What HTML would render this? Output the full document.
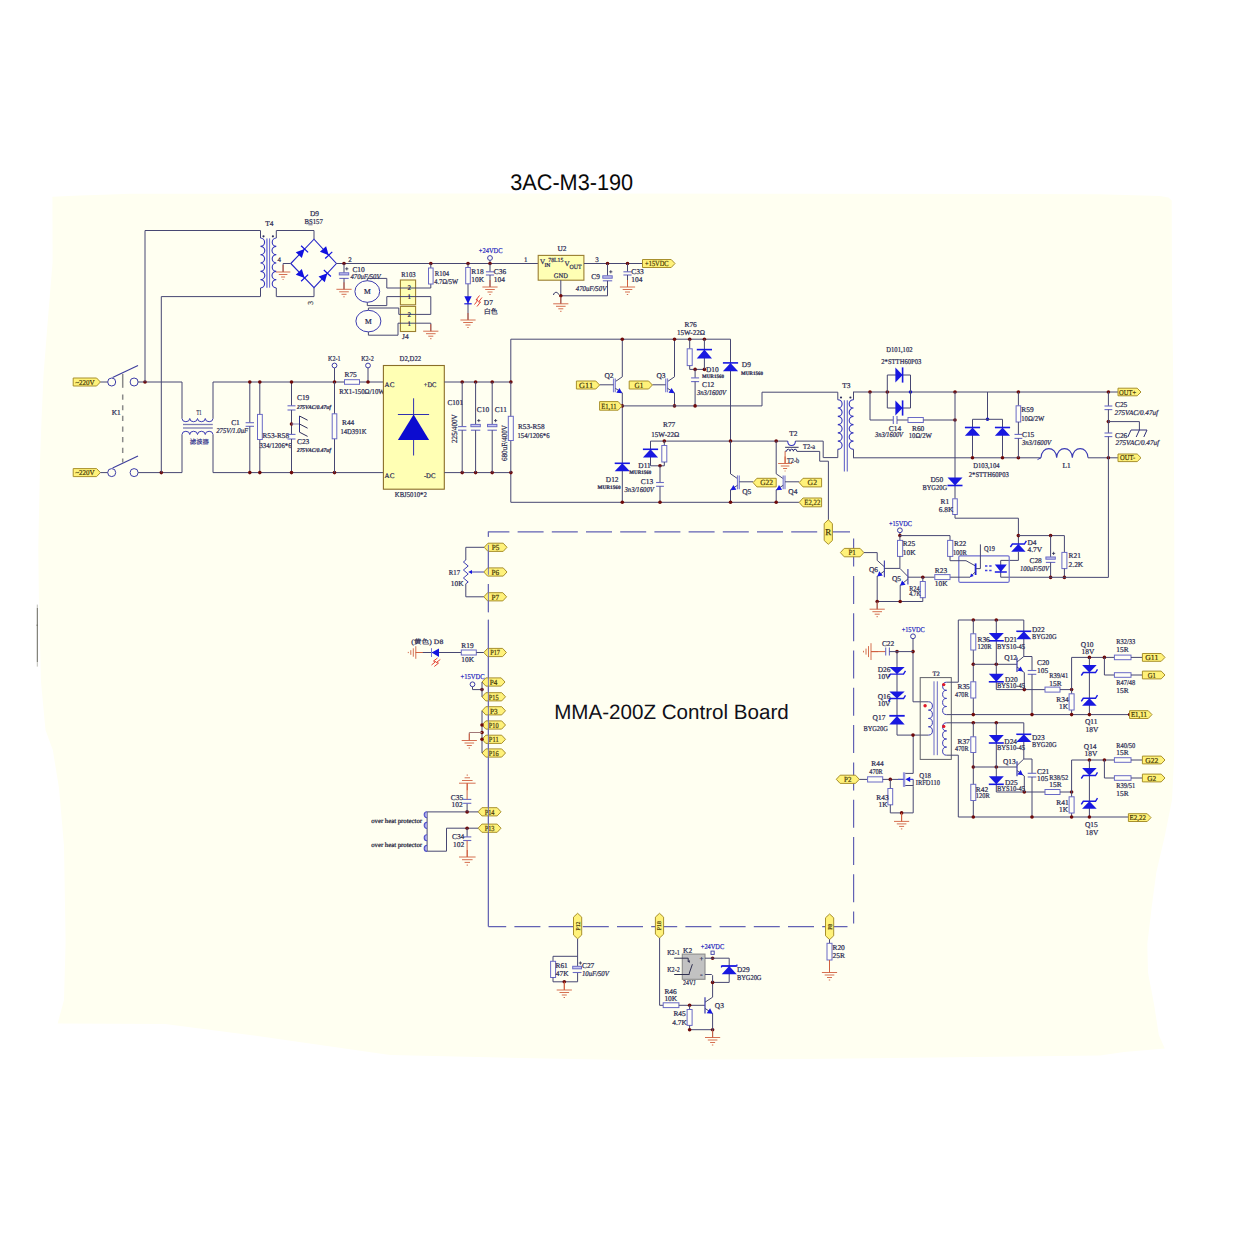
<!DOCTYPE html>
<html lang="en"><head><meta charset="utf-8"><title>3AC-M3-190 schematic</title>
<style>html,body{margin:0;padding:0;background:#fff;overflow:hidden}svg{display:block}</style></head>
<body><svg width="1250" height="1250" viewBox="0 0 1250 1250" shape-rendering="geometricPrecision" text-rendering="geometricPrecision" stroke-linecap="butt">
<rect width="1250" height="1250" fill="#ffffff"/>
<polygon points="52.4,196.8 80,195.6 110,194.5 130,193.8 300,193.6 600,193.6 1000,193.9 1100,194.2 1160,196 1168.5,197.4 1171.7,200.5 1172,300 1173,360 1174.2,500 1174.4,600 1174.2,756 1172,800 1164.8,836 1156.4,872 1151.6,908 1147.3,944 1148,972.8 1154,1004 1158.8,1035 1164.8,1048.4 1124,1052 1100,1055.6 808,1059 625,1060 500,1057.5 390,1055 250,1035 165,1024 57.6,1023.6 64,1000 65.6,942 64,846 59,788 52.8,750 45.5,730 41,682 38.9,600 38.3,548 40,462 41.5,420 43.5,375 48,318 52.6,262" fill="#fffff1" stroke="none" stroke-width="0"/>
<line x1="37.3" y1="604.6" x2="37.3" y2="608" stroke="#b8b8b0" stroke-width="0.9"/>
<line x1="37.3" y1="608" x2="37.3" y2="662" stroke="#66665c" stroke-width="1"/>
<line x1="37.3" y1="662" x2="37.3" y2="666.6" stroke="#b8b8b0" stroke-width="0.9"/>
<line x1="36.4" y1="625.2" x2="38" y2="625.2" stroke="#66665c" stroke-width="0.8"/>
<line x1="488.4" y1="531.8" x2="850" y2="531.8" stroke="#6262b4" stroke-width="1.2" stroke-dasharray="26 8.2" stroke-dashoffset="5"/>
<line x1="488.4" y1="926.6" x2="847.5" y2="926.6" stroke="#6262b4" stroke-width="1.2" stroke-dasharray="26 8.2" stroke-dashoffset="8.2"/>
<line x1="488.4" y1="531.6" x2="488.4" y2="536.8" stroke="#6262b4" stroke-width="1.2"/>
<line x1="488.4" y1="544.8" x2="488.4" y2="574.8" stroke="#6262b4" stroke-width="1.2"/>
<line x1="488.4" y1="584" x2="488.4" y2="612.2" stroke="#6262b4" stroke-width="1.2"/>
<line x1="488.4" y1="619.8" x2="488.4" y2="926.6" stroke="#6262b4" stroke-width="1.2"/>
<line x1="853.6" y1="538.6" x2="853.6" y2="923.5" stroke="#6262b4" stroke-width="1.2" stroke-dasharray="28 9.3"/>
<text x="510.2" y="190.2" font-size="22.5" fill="#0a0a0a" font-family='"Liberation Sans","Noto Sans CJK SC",sans-serif' textLength="123" lengthAdjust="spacingAndGlyphs">3AC-M3-190</text>
<text x="554.2" y="719.3" font-size="20.7" fill="#101018" font-family='"Liberation Sans","Noto Sans CJK SC",sans-serif' textLength="234.6" lengthAdjust="spacingAndGlyphs">MMA-200Z Control Board</text>
<polygon points="73.2,378 96.6,378 100.4,382 96.6,386 73.2,386" fill="#fff27a" stroke="#a8902c" stroke-width="1"/>
<text x="84.9" y="384.68" font-size="7.5" fill="#463808" font-family='"Liberation Serif","Noto Serif CJK SC",serif' text-anchor="middle" textLength="19.5" lengthAdjust="spacingAndGlyphs" stroke="#463808" stroke-width="0.2">~220V</text>
<line x1="100.4" y1="382" x2="107.7" y2="382" stroke="#474772" stroke-width="1"/>
<circle cx="111.7" cy="382" r="4" fill="none" stroke="#3c3ca8" stroke-width="1"/>
<circle cx="134.1" cy="382" r="4" fill="none" stroke="#3c3ca8" stroke-width="1"/>
<line x1="112.6" y1="377.4" x2="138" y2="365.4" stroke="#3c3c9c" stroke-width="1.1"/>
<polygon points="73.2,468.6 96.6,468.6 100.4,472.6 96.6,476.6 73.2,476.6" fill="#fff27a" stroke="#a8902c" stroke-width="1"/>
<text x="84.9" y="475.28" font-size="7.5" fill="#463808" font-family='"Liberation Serif","Noto Serif CJK SC",serif' text-anchor="middle" textLength="19.5" lengthAdjust="spacingAndGlyphs" stroke="#463808" stroke-width="0.2">~220V</text>
<line x1="100.4" y1="472.6" x2="107.7" y2="472.6" stroke="#474772" stroke-width="1"/>
<circle cx="111.7" cy="472.6" r="4" fill="none" stroke="#3c3ca8" stroke-width="1"/>
<circle cx="134.1" cy="472.6" r="4" fill="none" stroke="#3c3ca8" stroke-width="1"/>
<line x1="112.6" y1="468" x2="138" y2="456" stroke="#3c3c9c" stroke-width="1.1"/>
<line x1="122.7" y1="373.9" x2="122.7" y2="387.8" stroke="#8a8a8a" stroke-width="1.5"/>
<line x1="122.7" y1="394.5" x2="122.7" y2="462.4" stroke="#8a8a8a" stroke-width="1.5" stroke-dasharray="5.2 5.45"/>
<text x="111.7" y="415.24" font-size="7.4" fill="#2a2a52" font-family='"Liberation Serif","Noto Serif CJK SC",serif' stroke="#2a2a52" stroke-width="0.22">K1</text>
<polyline points="138.1 382 182 382 182 418.5" fill="none" stroke="#474772" stroke-width="1"/>
<circle cx="145" cy="382" r="1.8" fill="#6e0a0a"/>
<polyline points="145 382 145 230.5 260.4 230.5" fill="none" stroke="#474772" stroke-width="1"/>
<polyline points="138.1 472.6 182 472.6 182 434.5" fill="none" stroke="#474772" stroke-width="1"/>
<circle cx="161.3" cy="472.6" r="1.8" fill="#6e0a0a"/>
<polyline points="161.3 472.6 161.3 296.6 260.4 296.6" fill="none" stroke="#474772" stroke-width="1"/>
<path d="M182 418.5 A3.88 3.4 0 0 0 189.75 418.5 A3.88 3.4 0 0 0 197.5 418.5 A3.88 3.4 0 0 0 205.25 418.5 A3.88 3.4 0 0 0 213 418.5" fill="none" stroke="#3c3cb4" stroke-width="1"/>
<line x1="183" y1="424.5" x2="212.8" y2="424.5" stroke="#7c7cb4" stroke-width="1.3"/>
<line x1="183" y1="428" x2="212.8" y2="428" stroke="#7c7cb4" stroke-width="1.3"/>
<path d="M182 434.5 A3.88 3.4 0 0 1 189.75 434.5 A3.88 3.4 0 0 1 197.5 434.5 A3.88 3.4 0 0 1 205.25 434.5 A3.88 3.4 0 0 1 213 434.5" fill="none" stroke="#3c3cb4" stroke-width="1"/>
<text x="196.4" y="415.24" font-size="7.4" fill="#2a2a52" font-family='"Liberation Serif","Noto Serif CJK SC",serif' textLength="5" lengthAdjust="spacingAndGlyphs" stroke="#2a2a52" stroke-width="0.22">T1</text>
<text x="189.8" y="443.81" font-size="6.4" fill="#30308a" font-family='"Liberation Serif","Noto Serif CJK SC",serif' textLength="19" lengthAdjust="spacingAndGlyphs" stroke="#30308a" stroke-width="0.22">滤波器</text>
<polyline points="213 418.5 213 382 344.5 382" fill="none" stroke="#474772" stroke-width="1"/>
<polyline points="213 434.5 213 472.6 383.4 472.6" fill="none" stroke="#474772" stroke-width="1"/>
<line x1="249.8" y1="382" x2="249.8" y2="422.7" stroke="#474772" stroke-width="1"/>
<line x1="245.6" y1="422.7" x2="254" y2="422.7" stroke="#6a6ac6" stroke-width="1.1"/>
<line x1="245.6" y1="426.3" x2="254" y2="426.3" stroke="#6a6ac6" stroke-width="1.1"/>
<line x1="249.8" y1="426.3" x2="249.8" y2="472.6" stroke="#474772" stroke-width="1"/>
<circle cx="249.8" cy="382" r="1.8" fill="#6e0a0a"/>
<circle cx="249.8" cy="472.6" r="1.8" fill="#6e0a0a"/>
<text x="231.2" y="424.74" font-size="7.4" fill="#2a2a52" font-family='"Liberation Serif","Noto Serif CJK SC",serif' stroke="#2a2a52" stroke-width="0.22">C1</text>
<text x="216.2" y="433.14" font-size="7.4" fill="#2a2a52" font-family='"Liberation Serif","Noto Serif CJK SC",serif' textLength="32" lengthAdjust="spacingAndGlyphs" font-style="italic" stroke="#2a2a52" stroke-width="0.22">275V/1.0uF</text>
<line x1="259.8" y1="382" x2="259.8" y2="472.6" stroke="#474772" stroke-width="1"/>
<rect x="257.5" y="414.4" width="4.8" height="25.1" fill="#fffff6" stroke="#6a6ac6" stroke-width="1"/>
<circle cx="259.8" cy="382" r="1.8" fill="#6e0a0a"/>
<circle cx="259.8" cy="472.6" r="1.8" fill="#6e0a0a"/>
<text x="262.5" y="438.24" font-size="7.4" fill="#2a2a52" font-family='"Liberation Serif","Noto Serif CJK SC",serif' textLength="26.5" lengthAdjust="spacingAndGlyphs" stroke="#2a2a52" stroke-width="0.22">R53-R58</text>
<text x="259.5" y="448.44" font-size="7.4" fill="#2a2a52" font-family='"Liberation Serif","Noto Serif CJK SC",serif' textLength="32" lengthAdjust="spacingAndGlyphs" stroke="#2a2a52" stroke-width="0.22">334/1206*6</text>
<line x1="291.5" y1="382" x2="291.5" y2="405.8" stroke="#474772" stroke-width="1"/>
<line x1="287.5" y1="405.8" x2="295.5" y2="405.8" stroke="#6a6ac6" stroke-width="1.1"/>
<line x1="287.5" y1="410" x2="295.5" y2="410" stroke="#6a6ac6" stroke-width="1.1"/>
<line x1="291.5" y1="410" x2="291.5" y2="434.4" stroke="#474772" stroke-width="1"/>
<line x1="287.5" y1="434.4" x2="295.5" y2="434.4" stroke="#6a6ac6" stroke-width="1.1"/>
<line x1="287.5" y1="439" x2="295.5" y2="439" stroke="#6a6ac6" stroke-width="1.1"/>
<line x1="291.5" y1="439" x2="291.5" y2="472.6" stroke="#474772" stroke-width="1"/>
<circle cx="291.5" cy="382" r="1.8" fill="#6e0a0a"/>
<circle cx="291.5" cy="472.6" r="1.8" fill="#6e0a0a"/>
<circle cx="291.5" cy="424" r="1.8" fill="#6e0a0a"/>
<line x1="291.5" y1="424" x2="299.5" y2="424" stroke="#8a8ac0" stroke-width="1"/>
<line x1="299.5" y1="416" x2="299.5" y2="432.2" stroke="#30308c" stroke-width="1"/>
<line x1="299.5" y1="416" x2="307.6" y2="420.2" stroke="#30305a" stroke-width="1"/>
<line x1="299.5" y1="424" x2="307.6" y2="428.2" stroke="#30305a" stroke-width="1"/>
<line x1="299.5" y1="432.2" x2="307.6" y2="436.4" stroke="#30305a" stroke-width="1"/>
<text x="297" y="399.94" font-size="7.4" fill="#2a2a52" font-family='"Liberation Serif","Noto Serif CJK SC",serif' stroke="#2a2a52" stroke-width="0.22">C19</text>
<text x="297" y="409.21" font-size="5.8" fill="#2a2a52" font-family='"Liberation Serif","Noto Serif CJK SC",serif' textLength="34" lengthAdjust="spacingAndGlyphs" font-style="italic" font-weight="bold" stroke="#2a2a52" stroke-width="0.22">275VAC/0.47uf</text>
<text x="297" y="444.44" font-size="7.4" fill="#2a2a52" font-family='"Liberation Serif","Noto Serif CJK SC",serif' stroke="#2a2a52" stroke-width="0.22">C23</text>
<text x="297" y="451.61" font-size="5.8" fill="#2a2a52" font-family='"Liberation Serif","Noto Serif CJK SC",serif' textLength="34" lengthAdjust="spacingAndGlyphs" font-style="italic" font-weight="bold" stroke="#2a2a52" stroke-width="0.22">275VAC/0.47uf</text>
<circle cx="334.5" cy="365.5" r="2.4" fill="none" stroke="#3c3ca8" stroke-width="1"/>
<line x1="334.5" y1="368" x2="334.5" y2="382" stroke="#474772" stroke-width="1"/>
<circle cx="334.5" cy="382" r="1.8" fill="#6e0a0a"/>
<circle cx="334.5" cy="472.6" r="1.8" fill="#6e0a0a"/>
<line x1="334.5" y1="382" x2="334.5" y2="472.6" stroke="#474772" stroke-width="1"/>
<rect x="332.2" y="413.8" width="4.6" height="25" fill="#fffff6" stroke="#6a6ac6" stroke-width="1"/>
<text x="328" y="361.24" font-size="7.4" fill="#2a2a52" font-family='"Liberation Serif","Noto Serif CJK SC",serif' textLength="12.5" lengthAdjust="spacingAndGlyphs" stroke="#2a2a52" stroke-width="0.22">K2-1</text>
<text x="361.2" y="361.24" font-size="7.4" fill="#2a2a52" font-family='"Liberation Serif","Noto Serif CJK SC",serif' textLength="12.5" lengthAdjust="spacingAndGlyphs" stroke="#2a2a52" stroke-width="0.22">K2-2</text>
<text x="342" y="424.94" font-size="7.4" fill="#2a2a52" font-family='"Liberation Serif","Noto Serif CJK SC",serif' stroke="#2a2a52" stroke-width="0.22">R44</text>
<text x="340.5" y="434.44" font-size="7.4" fill="#2a2a52" font-family='"Liberation Serif","Noto Serif CJK SC",serif' textLength="26" lengthAdjust="spacingAndGlyphs" stroke="#2a2a52" stroke-width="0.22">14D391K</text>
<rect x="344.5" y="379.7" width="15" height="4.6" fill="#fffff6" stroke="#6a6ac6" stroke-width="1"/>
<line x1="359.5" y1="382" x2="383.4" y2="382" stroke="#474772" stroke-width="1"/>
<circle cx="368" cy="365.5" r="2.4" fill="none" stroke="#3c3ca8" stroke-width="1"/>
<line x1="368" y1="368" x2="368" y2="382" stroke="#474772" stroke-width="1"/>
<circle cx="368" cy="382" r="1.8" fill="#6e0a0a"/>
<text x="344.5" y="376.74" font-size="7.4" fill="#2a2a52" font-family='"Liberation Serif","Noto Serif CJK SC",serif' stroke="#2a2a52" stroke-width="0.22">R75</text>
<text x="339.3" y="394.44" font-size="7.4" fill="#2a2a52" font-family='"Liberation Serif","Noto Serif CJK SC",serif' textLength="45.5" lengthAdjust="spacingAndGlyphs" stroke="#2a2a52" stroke-width="0.22">RX1-150Ω/10W</text>
<rect x="383.4" y="365.5" width="60.9" height="123.7" fill="#ffffb4" stroke="#8a6e28" stroke-width="1.1"/>
<text x="399.5" y="361.24" font-size="7.4" fill="#2a2a52" font-family='"Liberation Serif","Noto Serif CJK SC",serif' textLength="21.7" lengthAdjust="spacingAndGlyphs" stroke="#2a2a52" stroke-width="0.22">D2,D22</text>
<text x="384.6" y="386.81" font-size="7" fill="#2a2a52" font-family='"Liberation Serif","Noto Serif CJK SC",serif' stroke="#2a2a52" stroke-width="0.22">AC</text>
<text x="423.8" y="386.81" font-size="7" fill="#2a2a52" font-family='"Liberation Serif","Noto Serif CJK SC",serif' textLength="12.5" lengthAdjust="spacingAndGlyphs" stroke="#2a2a52" stroke-width="0.22">+DC</text>
<text x="384.6" y="477.61" font-size="7" fill="#2a2a52" font-family='"Liberation Serif","Noto Serif CJK SC",serif' stroke="#2a2a52" stroke-width="0.22">AC</text>
<text x="423.9" y="477.61" font-size="7" fill="#2a2a52" font-family='"Liberation Serif","Noto Serif CJK SC",serif' textLength="11.5" lengthAdjust="spacingAndGlyphs" stroke="#2a2a52" stroke-width="0.22">-DC</text>
<text x="394.8" y="497.44" font-size="7.4" fill="#2a2a52" font-family='"Liberation Serif","Noto Serif CJK SC",serif' textLength="32" lengthAdjust="spacingAndGlyphs" stroke="#2a2a52" stroke-width="0.22">KBJ5010*2</text>
<line x1="413.6" y1="398.3" x2="413.6" y2="455.5" stroke="#3030b0" stroke-width="1"/>
<line x1="397.9" y1="414.5" x2="429.1" y2="414.5" stroke="#3030b0" stroke-width="1"/>
<polygon points="413.6,414.5 397.9,439.9 429.1,439.9" fill="#0c0cd0" stroke="none" stroke-width="0"/>
<polyline points="444.3 382 510.8 382 510.8 339.2 730.5 339.2" fill="none" stroke="#474772" stroke-width="1"/>
<polyline points="444.3 472.6 510.8 472.6 510.8 502.3 799.3 502.3" fill="none" stroke="#474772" stroke-width="1"/>
<circle cx="462.2" cy="382" r="1.8" fill="#6e0a0a"/>
<circle cx="462.2" cy="472.6" r="1.8" fill="#6e0a0a"/>
<circle cx="475.6" cy="382" r="1.8" fill="#6e0a0a"/>
<circle cx="475.6" cy="472.6" r="1.8" fill="#6e0a0a"/>
<circle cx="492.2" cy="382" r="1.8" fill="#6e0a0a"/>
<circle cx="492.2" cy="472.6" r="1.8" fill="#6e0a0a"/>
<circle cx="510.9" cy="382" r="1.8" fill="#6e0a0a"/>
<circle cx="510.9" cy="472.6" r="1.8" fill="#6e0a0a"/>
<line x1="462.2" y1="382" x2="462.2" y2="426.6" stroke="#474772" stroke-width="1"/>
<line x1="458" y1="426.6" x2="466.4" y2="426.6" stroke="#6a6ac6" stroke-width="1.1"/>
<line x1="458" y1="430.2" x2="466.4" y2="430.2" stroke="#6a6ac6" stroke-width="1.1"/>
<line x1="462.2" y1="430.2" x2="462.2" y2="472.6" stroke="#474772" stroke-width="1"/>
<text x="447.5" y="405.44" font-size="7.4" fill="#2a2a52" font-family='"Liberation Serif","Noto Serif CJK SC",serif' textLength="15.5" lengthAdjust="spacingAndGlyphs" stroke="#2a2a52" stroke-width="0.22">C101</text>
<text x="456.5" y="443" font-size="7.8" fill="#2a2a52" font-family='"Liberation Serif","Noto Serif CJK SC",serif' textLength="28.8" lengthAdjust="spacingAndGlyphs" transform="rotate(-90 456.5 443)" stroke="#2a2a52" stroke-width="0.22">225/400V</text>
<line x1="475.6" y1="382" x2="475.6" y2="424.4" stroke="#474772" stroke-width="1"/>
<rect x="470.9" y="424.4" width="9.4" height="2.3" fill="#c8c8ee" stroke="#6a6ac6" stroke-width="1"/>
<line x1="470.9" y1="430.2" x2="480.3" y2="430.2" stroke="#6a6ac6" stroke-width="1.1"/>
<line x1="477.2" y1="420.6" x2="480.4" y2="420.6" stroke="#2a2a52" stroke-width="0.8"/>
<line x1="478.8" y1="419" x2="478.8" y2="422.2" stroke="#2a2a52" stroke-width="0.8"/>
<line x1="475.6" y1="430.2" x2="475.6" y2="472.6" stroke="#474772" stroke-width="1"/>
<text x="476.8" y="412.44" font-size="7.4" fill="#2a2a52" font-family='"Liberation Serif","Noto Serif CJK SC",serif' stroke="#2a2a52" stroke-width="0.22">C10</text>
<line x1="492.2" y1="382" x2="492.2" y2="424.4" stroke="#474772" stroke-width="1"/>
<rect x="487.5" y="424.4" width="9.4" height="2.3" fill="#c8c8ee" stroke="#6a6ac6" stroke-width="1"/>
<line x1="487.5" y1="430.2" x2="496.9" y2="430.2" stroke="#6a6ac6" stroke-width="1.1"/>
<line x1="494" y1="420.6" x2="497.2" y2="420.6" stroke="#2a2a52" stroke-width="0.8"/>
<line x1="495.6" y1="419" x2="495.6" y2="422.2" stroke="#2a2a52" stroke-width="0.8"/>
<line x1="492.2" y1="430.2" x2="492.2" y2="472.6" stroke="#474772" stroke-width="1"/>
<text x="494.8" y="412.44" font-size="7.4" fill="#2a2a52" font-family='"Liberation Serif","Noto Serif CJK SC",serif' stroke="#2a2a52" stroke-width="0.22">C11</text>
<text x="506.7" y="461" font-size="7.8" fill="#2a2a52" font-family='"Liberation Serif","Noto Serif CJK SC",serif' textLength="36" lengthAdjust="spacingAndGlyphs" transform="rotate(-90 506.7 461)" stroke="#2a2a52" stroke-width="0.22">680uF/400V</text>
<line x1="510.8" y1="382" x2="510.8" y2="472.6" stroke="#474772" stroke-width="1"/>
<rect x="508.3" y="416.3" width="5" height="24.2" fill="#fffff6" stroke="#6a6ac6" stroke-width="1"/>
<text x="518" y="429.24" font-size="7.4" fill="#2a2a52" font-family='"Liberation Serif","Noto Serif CJK SC",serif' textLength="26.5" lengthAdjust="spacingAndGlyphs" stroke="#2a2a52" stroke-width="0.22">R53-R58</text>
<text x="517.5" y="438.24" font-size="7.4" fill="#2a2a52" font-family='"Liberation Serif","Noto Serif CJK SC",serif' textLength="32" lengthAdjust="spacingAndGlyphs" stroke="#2a2a52" stroke-width="0.22">154/1206*6</text>
<line x1="260.5" y1="230.5" x2="260.5" y2="238" stroke="#474772" stroke-width="1"/>
<path d="M260.5 238 A4.3 4.17 0 0 1 260.5 246.33 A4.3 4.17 0 0 1 260.5 254.67 A4.3 4.17 0 0 1 260.5 263 A4.3 4.17 0 0 1 260.5 271.33 A4.3 4.17 0 0 1 260.5 279.67 A4.3 4.17 0 0 1 260.5 288" fill="none" stroke="#3434bc" stroke-width="1.1"/>
<line x1="260.5" y1="288" x2="260.5" y2="296.6" stroke="#474772" stroke-width="1"/>
<line x1="266.9" y1="238.4" x2="266.9" y2="287.7" stroke="#8c8ce0" stroke-width="1.7"/>
<line x1="269.6" y1="238.4" x2="269.6" y2="287.7" stroke="#5a5ac8" stroke-width="0.9"/>
<line x1="276.3" y1="230.5" x2="276.3" y2="238" stroke="#474772" stroke-width="1"/>
<path d="M276.3 238 A4.3 4.17 0 0 0 276.3 246.33 A4.3 4.17 0 0 0 276.3 254.67 A4.3 4.17 0 0 0 276.3 263 A4.3 4.17 0 0 0 276.3 271.33 A4.3 4.17 0 0 0 276.3 279.67 A4.3 4.17 0 0 0 276.3 288" fill="none" stroke="#3434bc" stroke-width="1.1"/>
<line x1="276.3" y1="288" x2="276.3" y2="296.6" stroke="#474772" stroke-width="1"/>
<circle cx="263.5" cy="236.3" r="1.1" fill="#303060"/>
<circle cx="272.9" cy="236.3" r="1.1" fill="#303060"/>
<text x="265.2" y="226.44" font-size="7.4" fill="#2a2a52" font-family='"Liberation Serif","Noto Serif CJK SC",serif' stroke="#2a2a52" stroke-width="0.22">T4</text>
<text x="277.5" y="261.81" font-size="7" fill="#2a2a52" font-family='"Liberation Serif","Noto Serif CJK SC",serif' stroke="#2a2a52" stroke-width="0.22">4</text>
<polyline points="276.4 230.5 314 230.5 314 239.2" fill="none" stroke="#474772" stroke-width="1"/>
<polyline points="276.4 296.6 314 296.6 314 287.7" fill="none" stroke="#474772" stroke-width="1"/>
<polyline points="290.8 263.5 314 239.2 336.4 263.5 314 287.7 290.8 263.5" fill="none" stroke="#2828c8" stroke-width="1.1"/>
<polygon points="304.6,249.04 301.84,258.02 295.77,252.22" fill="#1010e0" stroke="none" stroke-width="0"/>
<line x1="308.1" y1="252.38" x2="301.11" y2="245.71" stroke="#1010e0" stroke-width="1.2"/>
<polygon points="328.72,255.17 319.94,251.84 326.11,246.14" fill="#1010e0" stroke="none" stroke-width="0"/>
<line x1="325.17" y1="258.44" x2="332.27" y2="251.89" stroke="#1010e0" stroke-width="1.2"/>
<polygon points="304.61,277.91 295.77,274.75 301.83,268.94" fill="#1010e0" stroke="none" stroke-width="0"/>
<line x1="301.12" y1="281.25" x2="308.1" y2="274.56" stroke="#1010e0" stroke-width="1.2"/>
<polygon points="327.38,273.24 324.76,282.26 318.59,276.56" fill="#1010e0" stroke="none" stroke-width="0"/>
<line x1="330.93" y1="276.52" x2="323.84" y2="269.96" stroke="#1010e0" stroke-width="1.2"/>
<text x="310" y="216.04" font-size="7.4" fill="#2a2a52" font-family='"Liberation Serif","Noto Serif CJK SC",serif' stroke="#2a2a52" stroke-width="0.22">D9</text>
<text x="304.4" y="223.74" font-size="7.4" fill="#2a2a52" font-family='"Liberation Serif","Noto Serif CJK SC",serif' textLength="18.4" lengthAdjust="spacingAndGlyphs" stroke="#2a2a52" stroke-width="0.22">BS157</text>
<line x1="308.4" y1="224.8" x2="312.6" y2="224.8" stroke="#50507a" stroke-width="0.8"/>
<text x="313" y="304.7" font-size="7.6" fill="#4a4a50" font-family='"Liberation Serif","Noto Serif CJK SC",serif' transform="rotate(-90 313 304.7)" stroke="#4a4a50" stroke-width="0.22">3</text>
<polyline points="290.8 263.5 283.1 263.5 283.1 272" fill="none" stroke="#474772" stroke-width="1"/>
<line x1="283.1" y1="265" x2="283.1" y2="272" stroke="#d06040" stroke-width="1"/>
<line x1="275.9" y1="272" x2="290.3" y2="272" stroke="#d06040" stroke-width="0.9"/>
<line x1="278.8" y1="274.5" x2="287.4" y2="274.5" stroke="#d06040" stroke-width="0.9"/>
<line x1="281.1" y1="277" x2="285.1" y2="277" stroke="#d06040" stroke-width="0.9"/>
<line x1="282.6" y1="279.5" x2="283.6" y2="279.5" stroke="#d06040" stroke-width="0.9"/>
<text x="348.2" y="261.81" font-size="7" fill="#2a2a52" font-family='"Liberation Serif","Noto Serif CJK SC",serif' stroke="#2a2a52" stroke-width="0.22">2</text>
<line x1="336.4" y1="263.5" x2="538" y2="263.5" stroke="#474772" stroke-width="1"/>
<circle cx="344" cy="263.5" r="1.8" fill="#6e0a0a"/>
<line x1="344" y1="263.5" x2="344" y2="272.8" stroke="#474772" stroke-width="1"/>
<rect x="339.3" y="272.8" width="9.4" height="2.1" fill="#c8c8ee" stroke="#6a6ac6" stroke-width="1"/>
<line x1="339.3" y1="278.4" x2="348.7" y2="278.4" stroke="#6a6ac6" stroke-width="1.1"/>
<line x1="345.2" y1="268.8" x2="348.4" y2="268.8" stroke="#2a2a52" stroke-width="0.8"/>
<line x1="346.8" y1="267.2" x2="346.8" y2="270.4" stroke="#2a2a52" stroke-width="0.8"/>
<line x1="344" y1="278.4" x2="344" y2="289.3" stroke="#474772" stroke-width="1"/>
<line x1="344" y1="282.3" x2="344" y2="289.3" stroke="#d06040" stroke-width="1"/>
<line x1="336.4" y1="289.3" x2="351.6" y2="289.3" stroke="#d06040" stroke-width="0.9"/>
<line x1="339.2" y1="291.8" x2="348.8" y2="291.8" stroke="#d06040" stroke-width="0.9"/>
<line x1="341.5" y1="294.3" x2="346.5" y2="294.3" stroke="#d06040" stroke-width="0.9"/>
<line x1="343.3" y1="296.8" x2="344.7" y2="296.8" stroke="#d06040" stroke-width="0.9"/>
<text x="352.4" y="272.04" font-size="7.4" fill="#2a2a52" font-family='"Liberation Serif","Noto Serif CJK SC",serif' stroke="#2a2a52" stroke-width="0.22">C10</text>
<text x="350.5" y="278.74" font-size="7.4" fill="#2a2a52" font-family='"Liberation Serif","Noto Serif CJK SC",serif' textLength="30" lengthAdjust="spacingAndGlyphs" font-style="italic" stroke="#2a2a52" stroke-width="0.22">470uF/50V</text>
<ellipse cx="367.3" cy="291.5" rx="12.4" ry="10.8" fill="#fffff6" stroke="#3c3cb0" stroke-width="1"/>
<text x="367.3" y="294.18" font-size="7.5" fill="#2a2a52" font-family='"Liberation Serif","Noto Serif CJK SC",serif' text-anchor="middle" stroke="#2a2a52" stroke-width="0.22">M</text>
<ellipse cx="368.4" cy="321.1" rx="12.5" ry="10.8" fill="#fffff6" stroke="#3c3cb0" stroke-width="1"/>
<text x="368.4" y="323.78" font-size="7.5" fill="#2a2a52" font-family='"Liberation Serif","Noto Serif CJK SC",serif' text-anchor="middle" stroke="#2a2a52" stroke-width="0.22">M</text>
<rect x="400.4" y="280" width="15.2" height="24.8" fill="#ffffb4" stroke="#9a7e30" stroke-width="1.1"/>
<rect x="400.4" y="306.4" width="15.2" height="25.1" fill="#ffffb4" stroke="#9a7e30" stroke-width="1.1"/>
<polyline points="367.3 280.7 367.3 278.4 386.8 278.4 386.8 288 430.8 288 430.8 284" fill="none" stroke="#474772" stroke-width="1"/>
<polyline points="367.3 302.3 367.3 305.6 386.8 305.6 386.8 296.6 430.8 296.6 430.8 314.4 398.8 314.4 398.8 308 368.4 308 368.4 310.3" fill="none" stroke="#474772" stroke-width="1"/>
<polyline points="368.4 331.9 368.4 335.2 398 335.2 398 323.2 430.8 323.2 430.8 331.2" fill="none" stroke="#474772" stroke-width="1"/>
<line x1="430.8" y1="324.2" x2="430.8" y2="331.2" stroke="#d06040" stroke-width="1"/>
<line x1="423.2" y1="331.2" x2="438.4" y2="331.2" stroke="#d06040" stroke-width="0.9"/>
<line x1="426" y1="333.7" x2="435.6" y2="333.7" stroke="#d06040" stroke-width="0.9"/>
<line x1="428.3" y1="336.2" x2="433.3" y2="336.2" stroke="#d06040" stroke-width="0.9"/>
<line x1="430.1" y1="338.7" x2="431.5" y2="338.7" stroke="#d06040" stroke-width="0.9"/>
<text x="409.2" y="290.31" font-size="7" fill="#2a2a52" font-family='"Liberation Serif","Noto Serif CJK SC",serif' text-anchor="middle" stroke="#2a2a52" stroke-width="0.22">2</text>
<text x="409.2" y="299.11" font-size="7" fill="#2a2a52" font-family='"Liberation Serif","Noto Serif CJK SC",serif' text-anchor="middle" stroke="#2a2a52" stroke-width="0.22">1</text>
<text x="409.2" y="316.71" font-size="7" fill="#2a2a52" font-family='"Liberation Serif","Noto Serif CJK SC",serif' text-anchor="middle" stroke="#2a2a52" stroke-width="0.22">2</text>
<text x="409.2" y="325.51" font-size="7" fill="#2a2a52" font-family='"Liberation Serif","Noto Serif CJK SC",serif' text-anchor="middle" stroke="#2a2a52" stroke-width="0.22">1</text>
<text x="401.2" y="277.14" font-size="7.4" fill="#2a2a52" font-family='"Liberation Serif","Noto Serif CJK SC",serif' textLength="14.4" lengthAdjust="spacingAndGlyphs" stroke="#2a2a52" stroke-width="0.22">R103</text>
<text x="402" y="339.44" font-size="7.4" fill="#2a2a52" font-family='"Liberation Serif","Noto Serif CJK SC",serif' stroke="#2a2a52" stroke-width="0.22">J4</text>
<circle cx="430.8" cy="263.5" r="1.8" fill="#6e0a0a"/>
<line x1="430.8" y1="263.5" x2="430.8" y2="268" stroke="#474772" stroke-width="1"/>
<rect x="428.5" y="268" width="4.6" height="16" fill="#fffff6" stroke="#6a6ac6" stroke-width="1"/>
<text x="434.8" y="275.74" font-size="7.4" fill="#2a2a52" font-family='"Liberation Serif","Noto Serif CJK SC",serif' textLength="14.4" lengthAdjust="spacingAndGlyphs" stroke="#2a2a52" stroke-width="0.22">R104</text>
<text x="434.2" y="284.44" font-size="7.4" fill="#2a2a52" font-family='"Liberation Serif","Noto Serif CJK SC",serif' textLength="24" lengthAdjust="spacingAndGlyphs" stroke="#2a2a52" stroke-width="0.22">4.7Ω/5W</text>
<circle cx="468" cy="263.5" r="1.8" fill="#6e0a0a"/>
<line x1="468" y1="263.5" x2="468" y2="320" stroke="#474772" stroke-width="1"/>
<rect x="465.7" y="267.5" width="4.6" height="16.3" fill="#fffff6" stroke="#6a6ac6" stroke-width="1"/>
<polygon points="464.3,296.3 471.7,296.3 468,303.8" fill="#1414e0" stroke="none" stroke-width="0"/>
<line x1="464.3" y1="303.8" x2="471.7" y2="303.8" stroke="#1414e0" stroke-width="1.2"/>
<line x1="468" y1="313" x2="468" y2="320" stroke="#d06040" stroke-width="1"/>
<line x1="460.4" y1="320" x2="475.6" y2="320" stroke="#d06040" stroke-width="0.9"/>
<line x1="463.2" y1="322.5" x2="472.8" y2="322.5" stroke="#d06040" stroke-width="0.9"/>
<line x1="465.5" y1="325" x2="470.5" y2="325" stroke="#d06040" stroke-width="0.9"/>
<line x1="467.3" y1="327.5" x2="468.7" y2="327.5" stroke="#d06040" stroke-width="0.9"/>
<text x="471.3" y="274.24" font-size="7.4" fill="#2a2a52" font-family='"Liberation Serif","Noto Serif CJK SC",serif' stroke="#2a2a52" stroke-width="0.22">R18</text>
<text x="471.3" y="282.44" font-size="7.4" fill="#2a2a52" font-family='"Liberation Serif","Noto Serif CJK SC",serif' stroke="#2a2a52" stroke-width="0.22">10K</text>
<polyline points="479.5 295.5 476 300 478 300 474.5 304.5" fill="none" stroke="#e03020" stroke-width="0.9"/>
<polyline points="482 297.5 478.5 302 480.5 302 477 306.5" fill="none" stroke="#e03020" stroke-width="0.9"/>
<text x="483.8" y="305.44" font-size="7.4" fill="#2a2a52" font-family='"Liberation Serif","Noto Serif CJK SC",serif' stroke="#2a2a52" stroke-width="0.22">D7</text>
<text x="483.8" y="313.61" font-size="7" fill="#2a2a52" font-family='"Liberation Serif","Noto Serif CJK SC",serif' stroke="#2a2a52" stroke-width="0.22">白色</text>
<text x="478.8" y="253.24" font-size="7.4" fill="#2828c0" font-family='"Liberation Serif","Noto Serif CJK SC",serif' textLength="23.7" lengthAdjust="spacingAndGlyphs" stroke="#2828c0" stroke-width="0.22">+24VDC</text>
<circle cx="490" cy="258" r="2.4" fill="none" stroke="#3c3ca8" stroke-width="1"/>
<line x1="490" y1="260.4" x2="490" y2="263.5" stroke="#474772" stroke-width="1"/>
<circle cx="490" cy="263.5" r="1.8" fill="#6e0a0a"/>
<line x1="490" y1="263.5" x2="490" y2="271.8" stroke="#474772" stroke-width="1"/>
<line x1="485.9" y1="271.8" x2="494.1" y2="271.8" stroke="#6a6ac6" stroke-width="1.1"/>
<line x1="485.9" y1="275" x2="494.1" y2="275" stroke="#6a6ac6" stroke-width="1.1"/>
<line x1="490" y1="275" x2="490" y2="287" stroke="#474772" stroke-width="1"/>
<line x1="490" y1="280" x2="490" y2="287" stroke="#d06040" stroke-width="1"/>
<line x1="482.4" y1="287" x2="497.6" y2="287" stroke="#d06040" stroke-width="0.9"/>
<line x1="485.2" y1="289.5" x2="494.8" y2="289.5" stroke="#d06040" stroke-width="0.9"/>
<line x1="487.5" y1="292" x2="492.5" y2="292" stroke="#d06040" stroke-width="0.9"/>
<line x1="489.3" y1="294.5" x2="490.7" y2="294.5" stroke="#d06040" stroke-width="0.9"/>
<text x="493.8" y="274.24" font-size="7.4" fill="#2a2a52" font-family='"Liberation Serif","Noto Serif CJK SC",serif' stroke="#2a2a52" stroke-width="0.22">C36</text>
<text x="493.8" y="282.44" font-size="7.4" fill="#2a2a52" font-family='"Liberation Serif","Noto Serif CJK SC",serif' stroke="#2a2a52" stroke-width="0.22">104</text>
<text x="524" y="261.51" font-size="7" fill="#2a2a52" font-family='"Liberation Serif","Noto Serif CJK SC",serif' stroke="#2a2a52" stroke-width="0.22">1</text>
<rect x="538.2" y="255.4" width="45.7" height="24.8" fill="#ffffb4" stroke="#9a7e30" stroke-width="1.1"/>
<text x="557.5" y="251.44" font-size="7.4" fill="#2a2a52" font-family='"Liberation Serif","Noto Serif CJK SC",serif' stroke="#2a2a52" stroke-width="0.22">U2</text>
<text x="540" y="263.81" font-size="7" fill="#2a2a52" font-family='"Liberation Serif","Noto Serif CJK SC",serif' stroke="#2a2a52" stroke-width="0.22">V</text>
<text x="544.5" y="267.35" font-size="5.6" fill="#2a2a52" font-family='"Liberation Serif","Noto Serif CJK SC",serif' stroke="#2a2a52" stroke-width="0.22">IN</text>
<text x="548.3" y="261.55" font-size="6.2" fill="#2a2a52" font-family='"Liberation Serif","Noto Serif CJK SC",serif' textLength="15" lengthAdjust="spacingAndGlyphs" stroke="#2a2a52" stroke-width="0.22">78L15</text>
<text x="564.5" y="266.31" font-size="7" fill="#2a2a52" font-family='"Liberation Serif","Noto Serif CJK SC",serif' stroke="#2a2a52" stroke-width="0.22">V</text>
<text x="569.5" y="269.11" font-size="6.4" fill="#2a2a52" font-family='"Liberation Serif","Noto Serif CJK SC",serif' textLength="12" lengthAdjust="spacingAndGlyphs" stroke="#2a2a52" stroke-width="0.22">OUT</text>
<text x="553.8" y="278.11" font-size="7" fill="#2a2a52" font-family='"Liberation Serif","Noto Serif CJK SC",serif' textLength="14" lengthAdjust="spacingAndGlyphs" stroke="#2a2a52" stroke-width="0.22">GND</text>
<text x="595.3" y="261.51" font-size="7" fill="#2a2a52" font-family='"Liberation Serif","Noto Serif CJK SC",serif' stroke="#2a2a52" stroke-width="0.22">3</text>
<line x1="584" y1="263.5" x2="642.5" y2="263.5" stroke="#474772" stroke-width="1"/>
<polygon points="642.5,259.5 671.2,259.5 675,263.5 671.2,267.5 642.5,267.5" fill="#fff27a" stroke="#a8902c" stroke-width="1"/>
<text x="656.85" y="266.24" font-size="7.7" fill="#463808" font-family='"Liberation Serif","Noto Serif CJK SC",serif' text-anchor="middle" textLength="23.6" lengthAdjust="spacingAndGlyphs" stroke="#463808" stroke-width="0.2">+15VDC</text>
<circle cx="607.5" cy="263.5" r="1.8" fill="#6e0a0a"/>
<line x1="607.5" y1="263.5" x2="607.5" y2="275.8" stroke="#474772" stroke-width="1"/>
<rect x="602.8" y="275.8" width="9.4" height="2.4" fill="#c8c8ee" stroke="#6a6ac6" stroke-width="1"/>
<line x1="602.8" y1="280.8" x2="612.2" y2="280.8" stroke="#6a6ac6" stroke-width="1.1"/>
<line x1="609.2" y1="271.8" x2="612.4" y2="271.8" stroke="#2a2a52" stroke-width="0.8"/>
<line x1="610.8" y1="270.2" x2="610.8" y2="273.4" stroke="#2a2a52" stroke-width="0.8"/>
<polyline points="607.5 280.8 607.5 295.8 560.8 295.8" fill="none" stroke="#474772" stroke-width="1"/>
<line x1="560.8" y1="280.2" x2="560.8" y2="303.8" stroke="#474772" stroke-width="1"/>
<circle cx="560.8" cy="295.8" r="1.8" fill="#6e0a0a"/>
<line x1="560.8" y1="296.8" x2="560.8" y2="303.8" stroke="#d06040" stroke-width="1"/>
<line x1="553.2" y1="303.8" x2="568.4" y2="303.8" stroke="#d06040" stroke-width="0.9"/>
<line x1="556" y1="306.3" x2="565.6" y2="306.3" stroke="#d06040" stroke-width="0.9"/>
<line x1="558.3" y1="308.8" x2="563.3" y2="308.8" stroke="#d06040" stroke-width="0.9"/>
<line x1="560.1" y1="311.3" x2="561.5" y2="311.3" stroke="#d06040" stroke-width="0.9"/>
<path d="M553.5 295 C554 291.5 558 291.5 558.5 294.5" fill="none" stroke="#303060" stroke-width="1"/>
<text x="591.3" y="279.44" font-size="7.4" fill="#2a2a52" font-family='"Liberation Serif","Noto Serif CJK SC",serif' stroke="#2a2a52" stroke-width="0.22">C9</text>
<text x="575.8" y="290.74" font-size="7.4" fill="#2a2a52" font-family='"Liberation Serif","Noto Serif CJK SC",serif' textLength="30.5" lengthAdjust="spacingAndGlyphs" font-style="italic" stroke="#2a2a52" stroke-width="0.22">470uF/50V</text>
<circle cx="627.5" cy="263.5" r="1.8" fill="#6e0a0a"/>
<line x1="627.5" y1="263.5" x2="627.5" y2="271.8" stroke="#474772" stroke-width="1"/>
<line x1="623.4" y1="271.8" x2="631.6" y2="271.8" stroke="#6a6ac6" stroke-width="1.1"/>
<line x1="623.4" y1="275" x2="631.6" y2="275" stroke="#6a6ac6" stroke-width="1.1"/>
<line x1="627.5" y1="275" x2="627.5" y2="287" stroke="#474772" stroke-width="1"/>
<line x1="627.5" y1="280" x2="627.5" y2="287" stroke="#d06040" stroke-width="1"/>
<line x1="619.9" y1="287" x2="635.1" y2="287" stroke="#d06040" stroke-width="0.9"/>
<line x1="622.7" y1="289.5" x2="632.3" y2="289.5" stroke="#d06040" stroke-width="0.9"/>
<line x1="625" y1="292" x2="630" y2="292" stroke="#d06040" stroke-width="0.9"/>
<line x1="626.8" y1="294.5" x2="628.2" y2="294.5" stroke="#d06040" stroke-width="0.9"/>
<text x="631.3" y="274.24" font-size="7.4" fill="#2a2a52" font-family='"Liberation Serif","Noto Serif CJK SC",serif' stroke="#2a2a52" stroke-width="0.22">C33</text>
<text x="631.3" y="282.44" font-size="7.4" fill="#2a2a52" font-family='"Liberation Serif","Noto Serif CJK SC",serif' stroke="#2a2a52" stroke-width="0.22">104</text>
<polyline points="622.3 339.2 622.3 376.8 615.3 381.6" fill="none" stroke="#474772" stroke-width="1"/>
<line x1="615.3" y1="378.4" x2="615.3" y2="392.3" stroke="#8282d2" stroke-width="1.2"/>
<line x1="613.5" y1="378.4" x2="613.5" y2="392.3" stroke="#8282d2" stroke-width="1.2"/>
<line x1="613.5" y1="384.8" x2="599.6" y2="384.8" stroke="#474772" stroke-width="1"/>
<line x1="615.3" y1="388.3" x2="622.3" y2="392.8" stroke="#474772" stroke-width="1"/>
<polygon points="622.3,393.2 616.38,392.79 619.47,387.98" fill="#1818e0" stroke="none" stroke-width="0"/>
<line x1="622.3" y1="392.8" x2="622.3" y2="502.3" stroke="#474772" stroke-width="1"/>
<circle cx="622.3" cy="339.2" r="1.8" fill="#6e0a0a"/>
<circle cx="622.3" cy="405.9" r="1.8" fill="#6e0a0a"/>
<circle cx="622.3" cy="502.3" r="1.8" fill="#6e0a0a"/>
<polygon points="576.4,381 595.8,381 599.6,385 595.8,389 576.4,389" fill="#fff27a" stroke="#a8902c" stroke-width="1"/>
<text x="586.1" y="387.81" font-size="7.9" fill="#463808" font-family='"Liberation Serif","Noto Serif CJK SC",serif' text-anchor="middle" textLength="14" lengthAdjust="spacingAndGlyphs" stroke="#463808" stroke-width="0.2">G11</text>
<polygon points="599.6,401.6 618.2,401.6 622,405.9 618.2,410.2 599.6,410.2" fill="#fff27a" stroke="#a8902c" stroke-width="1"/>
<text x="608.9" y="408.71" font-size="7.9" fill="#463808" font-family='"Liberation Serif","Noto Serif CJK SC",serif' text-anchor="middle" textLength="15.4" lengthAdjust="spacingAndGlyphs" stroke="#463808" stroke-width="0.2">E1,11</text>
<text x="604.4" y="377.94" font-size="7.4" fill="#2a2a52" font-family='"Liberation Serif","Noto Serif CJK SC",serif' stroke="#2a2a52" stroke-width="0.22">Q2</text>
<polyline points="674.5 339.2 674.5 376.8 667.5 381.6" fill="none" stroke="#474772" stroke-width="1"/>
<line x1="667.5" y1="378.4" x2="667.5" y2="392.3" stroke="#8282d2" stroke-width="1.2"/>
<line x1="665.7" y1="378.4" x2="665.7" y2="392.3" stroke="#8282d2" stroke-width="1.2"/>
<line x1="665.7" y1="384.8" x2="652.4" y2="384.8" stroke="#474772" stroke-width="1"/>
<line x1="667.5" y1="388.3" x2="674.5" y2="392.8" stroke="#474772" stroke-width="1"/>
<polygon points="674.5,393.2 668.58,392.79 671.67,387.98" fill="#1818e0" stroke="none" stroke-width="0"/>
<line x1="674.5" y1="392.8" x2="674.5" y2="405.9" stroke="#474772" stroke-width="1"/>
<circle cx="674.5" cy="339.2" r="1.8" fill="#6e0a0a"/>
<circle cx="674.5" cy="405.9" r="1.8" fill="#6e0a0a"/>
<polygon points="629.2,381 648.6,381 652.4,385 648.6,389 629.2,389" fill="#fff27a" stroke="#a8902c" stroke-width="1"/>
<text x="638.9" y="387.81" font-size="7.9" fill="#463808" font-family='"Liberation Serif","Noto Serif CJK SC",serif' text-anchor="middle" textLength="8.8" lengthAdjust="spacingAndGlyphs" stroke="#463808" stroke-width="0.2">G1</text>
<text x="656.4" y="377.94" font-size="7.4" fill="#2a2a52" font-family='"Liberation Serif","Noto Serif CJK SC",serif' stroke="#2a2a52" stroke-width="0.22">Q3</text>
<polyline points="622.3 405.9 762 405.9 762 392.2 837.8 392.2" fill="none" stroke="#474772" stroke-width="1"/>
<circle cx="689.7" cy="339.2" r="1.8" fill="#6e0a0a"/>
<line x1="689.7" y1="339.2" x2="689.7" y2="348.8" stroke="#474772" stroke-width="1"/>
<rect x="687.2" y="348.8" width="5" height="16.8" fill="#fffff6" stroke="#6a6ac6" stroke-width="1"/>
<polyline points="689.7 365.6 689.7 369.4 704.4 369.4" fill="none" stroke="#474772" stroke-width="1"/>
<circle cx="695.1" cy="369.4" r="1.8" fill="#6e0a0a"/>
<circle cx="704.4" cy="369.4" r="1.8" fill="#6e0a0a"/>
<circle cx="704.4" cy="339.2" r="1.8" fill="#6e0a0a"/>
<line x1="704.4" y1="339.2" x2="704.4" y2="369.4" stroke="#474772" stroke-width="1"/>
<polygon points="704.4,349.6 696.8,358.4 712,358.4" fill="#1818e0" stroke="none" stroke-width="0"/>
<line x1="696.8" y1="349.6" x2="712" y2="349.6" stroke="#1818e0" stroke-width="1.6"/>
<line x1="695.1" y1="369.4" x2="695.1" y2="377.9" stroke="#474772" stroke-width="1"/>
<line x1="691.1" y1="377.9" x2="699.1" y2="377.9" stroke="#6a6ac6" stroke-width="1.1"/>
<line x1="691.1" y1="381.6" x2="699.1" y2="381.6" stroke="#6a6ac6" stroke-width="1.1"/>
<line x1="695.1" y1="381.6" x2="695.1" y2="405.9" stroke="#474772" stroke-width="1"/>
<circle cx="695.1" cy="405.9" r="1.8" fill="#6e0a0a"/>
<text x="684.5" y="327.44" font-size="7.4" fill="#2a2a52" font-family='"Liberation Serif","Noto Serif CJK SC",serif' stroke="#2a2a52" stroke-width="0.22">R76</text>
<text x="677" y="334.94" font-size="7.4" fill="#2a2a52" font-family='"Liberation Serif","Noto Serif CJK SC",serif' textLength="28" lengthAdjust="spacingAndGlyphs" stroke="#2a2a52" stroke-width="0.22">15W-22Ω</text>
<text x="706" y="371.74" font-size="7.4" fill="#2a2a52" font-family='"Liberation Serif","Noto Serif CJK SC",serif' stroke="#2a2a52" stroke-width="0.22">D10</text>
<text x="702" y="378.02" font-size="5.2" fill="#2a2a52" font-family='"Liberation Serif","Noto Serif CJK SC",serif' textLength="22" lengthAdjust="spacingAndGlyphs" font-weight="bold" stroke="#2a2a52" stroke-width="0.22">MUR1560</text>
<text x="702" y="386.94" font-size="7.4" fill="#2a2a52" font-family='"Liberation Serif","Noto Serif CJK SC",serif' stroke="#2a2a52" stroke-width="0.22">C12</text>
<text x="697" y="394.94" font-size="7.4" fill="#2a2a52" font-family='"Liberation Serif","Noto Serif CJK SC",serif' textLength="29" lengthAdjust="spacingAndGlyphs" font-style="italic" stroke="#2a2a52" stroke-width="0.22">3n3/1600V</text>
<line x1="730.5" y1="339.2" x2="730.5" y2="473.8" stroke="#474772" stroke-width="1"/>
<polygon points="730.5,362.9 722.9,371.2 738.1,371.2" fill="#1818e0" stroke="none" stroke-width="0"/>
<line x1="722.9" y1="362.9" x2="738.1" y2="362.9" stroke="#1818e0" stroke-width="1.6"/>
<text x="741.8" y="367.44" font-size="7.4" fill="#2a2a52" font-family='"Liberation Serif","Noto Serif CJK SC",serif' stroke="#2a2a52" stroke-width="0.22">D9</text>
<text x="741" y="374.72" font-size="5.2" fill="#2a2a52" font-family='"Liberation Serif","Noto Serif CJK SC",serif' textLength="22" lengthAdjust="spacingAndGlyphs" font-weight="bold" stroke="#2a2a52" stroke-width="0.22">MUR1560</text>
<line x1="650.5" y1="441.1" x2="787.7" y2="441.1" stroke="#474772" stroke-width="1"/>
<circle cx="664.3" cy="441.1" r="1.8" fill="#6e0a0a"/>
<circle cx="730.5" cy="441.1" r="1.8" fill="#6e0a0a"/>
<circle cx="776.2" cy="441.1" r="1.8" fill="#6e0a0a"/>
<polyline points="650.5 441.1 650.5 465.8 660 465.8" fill="none" stroke="#474772" stroke-width="1"/>
<polygon points="650.5,449.3 642.9,457.5 658.1,457.5" fill="#1818e0" stroke="none" stroke-width="0"/>
<line x1="642.9" y1="449.3" x2="658.1" y2="449.3" stroke="#1818e0" stroke-width="1.6"/>
<line x1="664.3" y1="441.1" x2="664.3" y2="445.5" stroke="#474772" stroke-width="1"/>
<rect x="661.8" y="445.5" width="5" height="16.5" fill="#fffff6" stroke="#6a6ac6" stroke-width="1"/>
<polyline points="664.3 462 664.3 465.8 660 465.8" fill="none" stroke="#474772" stroke-width="1"/>
<circle cx="660" cy="465.8" r="1.8" fill="#6e0a0a"/>
<line x1="660" y1="465.8" x2="660" y2="482.5" stroke="#474772" stroke-width="1"/>
<line x1="656.1" y1="482.5" x2="663.9" y2="482.5" stroke="#6a6ac6" stroke-width="1.1"/>
<line x1="656.1" y1="486.3" x2="663.9" y2="486.3" stroke="#6a6ac6" stroke-width="1.1"/>
<line x1="660" y1="486.3" x2="660" y2="502.3" stroke="#474772" stroke-width="1"/>
<circle cx="660" cy="502.3" r="1.8" fill="#6e0a0a"/>
<text x="663" y="426.74" font-size="7.4" fill="#2a2a52" font-family='"Liberation Serif","Noto Serif CJK SC",serif' stroke="#2a2a52" stroke-width="0.22">R77</text>
<text x="651.3" y="436.94" font-size="7.4" fill="#2a2a52" font-family='"Liberation Serif","Noto Serif CJK SC",serif' textLength="28" lengthAdjust="spacingAndGlyphs" stroke="#2a2a52" stroke-width="0.22">15W-22Ω</text>
<text x="638.3" y="468.24" font-size="7.4" fill="#2a2a52" font-family='"Liberation Serif","Noto Serif CJK SC",serif' stroke="#2a2a52" stroke-width="0.22">D11</text>
<text x="629.3" y="474.22" font-size="5.2" fill="#2a2a52" font-family='"Liberation Serif","Noto Serif CJK SC",serif' textLength="22" lengthAdjust="spacingAndGlyphs" font-weight="bold" stroke="#2a2a52" stroke-width="0.22">MUR1560</text>
<text x="640.8" y="483.74" font-size="7.4" fill="#2a2a52" font-family='"Liberation Serif","Noto Serif CJK SC",serif' stroke="#2a2a52" stroke-width="0.22">C13</text>
<text x="624.5" y="491.74" font-size="7.4" fill="#2a2a52" font-family='"Liberation Serif","Noto Serif CJK SC",serif' textLength="29.3" lengthAdjust="spacingAndGlyphs" font-style="italic" stroke="#2a2a52" stroke-width="0.22">3n3/1600V</text>
<polygon points="622.3,463.3 614.7,471.3 629.9,471.3" fill="#1818e0" stroke="none" stroke-width="0"/>
<line x1="614.7" y1="463.3" x2="629.9" y2="463.3" stroke="#1818e0" stroke-width="1.6"/>
<text x="605.8" y="482.44" font-size="7.4" fill="#2a2a52" font-family='"Liberation Serif","Noto Serif CJK SC",serif' stroke="#2a2a52" stroke-width="0.22">D12</text>
<text x="597.5" y="488.72" font-size="5.2" fill="#2a2a52" font-family='"Liberation Serif","Noto Serif CJK SC",serif' textLength="23" lengthAdjust="spacingAndGlyphs" font-weight="bold" stroke="#2a2a52" stroke-width="0.22">MUR1560</text>
<polyline points="730.5 441.1 730.5 473.8 737.5 478.6" fill="none" stroke="#474772" stroke-width="1"/>
<line x1="737.5" y1="475.4" x2="737.5" y2="489.3" stroke="#8282d2" stroke-width="1.2"/>
<line x1="739.3" y1="475.4" x2="739.3" y2="489.3" stroke="#8282d2" stroke-width="1.2"/>
<line x1="739.3" y1="481.8" x2="753.1" y2="481.8" stroke="#474772" stroke-width="1"/>
<line x1="737.5" y1="485.3" x2="730.5" y2="489.8" stroke="#474772" stroke-width="1"/>
<polygon points="730.5,490.2 733.33,484.98 736.42,489.79" fill="#1818e0" stroke="none" stroke-width="0"/>
<line x1="730.5" y1="489.8" x2="730.5" y2="502.3" stroke="#474772" stroke-width="1"/>
<circle cx="730.5" cy="502.3" r="1.8" fill="#6e0a0a"/>
<polygon points="753.1,482.6 756.9,478.3 776.2,478.3 776.2,486.9 756.9,486.9" fill="#fff27a" stroke="#a8902c" stroke-width="1"/>
<text x="766.55" y="485.41" font-size="7.9" fill="#463808" font-family='"Liberation Serif","Noto Serif CJK SC",serif' text-anchor="middle" textLength="12.8" lengthAdjust="spacingAndGlyphs" stroke="#463808" stroke-width="0.2">G22</text>
<text x="742.2" y="493.74" font-size="7.4" fill="#2a2a52" font-family='"Liberation Serif","Noto Serif CJK SC",serif' stroke="#2a2a52" stroke-width="0.22">Q5</text>
<polyline points="776.2 441.1 776.2 473.8 783.2 478.6" fill="none" stroke="#474772" stroke-width="1"/>
<line x1="783.2" y1="475.4" x2="783.2" y2="489.3" stroke="#8282d2" stroke-width="1.2"/>
<line x1="785" y1="475.4" x2="785" y2="489.3" stroke="#8282d2" stroke-width="1.2"/>
<line x1="785" y1="481.8" x2="799.2" y2="481.8" stroke="#474772" stroke-width="1"/>
<line x1="783.2" y1="485.3" x2="776.2" y2="489.8" stroke="#474772" stroke-width="1"/>
<polygon points="776.2,490.2 779.03,484.98 782.12,489.79" fill="#1818e0" stroke="none" stroke-width="0"/>
<line x1="776.2" y1="489.8" x2="776.2" y2="502.3" stroke="#474772" stroke-width="1"/>
<circle cx="776.2" cy="502.3" r="1.8" fill="#6e0a0a"/>
<polygon points="799.2,482.6 803,478.3 821.6,478.3 821.6,486.9 803,486.9" fill="#fff27a" stroke="#a8902c" stroke-width="1"/>
<text x="812.3" y="485.41" font-size="7.9" fill="#463808" font-family='"Liberation Serif","Noto Serif CJK SC",serif' text-anchor="middle" textLength="9.4" lengthAdjust="spacingAndGlyphs" stroke="#463808" stroke-width="0.2">G2</text>
<polygon points="799.2,502.4 803,498 821.6,498 821.6,506.8 803,506.8" fill="#fff27a" stroke="#a8902c" stroke-width="1"/>
<text x="812.3" y="505.21" font-size="7.9" fill="#463808" font-family='"Liberation Serif","Noto Serif CJK SC",serif' text-anchor="middle" textLength="16" lengthAdjust="spacingAndGlyphs" stroke="#463808" stroke-width="0.2">E2,22</text>
<text x="788.3" y="493.74" font-size="7.4" fill="#2a2a52" font-family='"Liberation Serif","Noto Serif CJK SC",serif' stroke="#2a2a52" stroke-width="0.22">Q4</text>
<path d="M787.7 441.1 C787.7 447 795.4 447 795.4 441.1" fill="none" stroke="#3838c0" stroke-width="1.1"/>
<polyline points="795.4 441.1 823.2 441.1 823.2 457.6 837.8 457.6 837.8 449.4" fill="none" stroke="#474772" stroke-width="1"/>
<line x1="785.1" y1="447.3" x2="798.6" y2="447.3" stroke="#303060" stroke-width="1"/>
<path d="M786.6 451.2 A1.7 2 0 0 1 790 451.2 A1.7 2 0 0 1 793.4 451.2 A1.7 2 0 0 1 796.8 451.2" fill="none" stroke="#303078" stroke-width="1"/>
<line x1="785.1" y1="451.2" x2="786.6" y2="451.2" stroke="#303078" stroke-width="1"/>
<line x1="785.1" y1="451.2" x2="785.1" y2="463.5" stroke="#d06040" stroke-width="1"/>
<line x1="785.1" y1="456.5" x2="785.1" y2="463.5" stroke="#d06040" stroke-width="1"/>
<line x1="778.1" y1="463.5" x2="792.1" y2="463.5" stroke="#d06040" stroke-width="0.9"/>
<line x1="780.8" y1="466" x2="789.4" y2="466" stroke="#d06040" stroke-width="0.9"/>
<line x1="783.1" y1="468.5" x2="787.1" y2="468.5" stroke="#d06040" stroke-width="0.9"/>
<line x1="784.6" y1="471" x2="785.6" y2="471" stroke="#d06040" stroke-width="0.9"/>
<polyline points="796.8 451.4 819.7 451.4 819.7 461.2 828.4 461.2 828.4 520" fill="none" stroke="#474772" stroke-width="1"/>
<text x="789.2" y="435.84" font-size="7.4" fill="#2a2a52" font-family='"Liberation Serif","Noto Serif CJK SC",serif' stroke="#2a2a52" stroke-width="0.22">T2</text>
<text x="803" y="448.64" font-size="7.4" fill="#2a2a52" font-family='"Liberation Serif","Noto Serif CJK SC",serif' textLength="12.2" lengthAdjust="spacingAndGlyphs" stroke="#2a2a52" stroke-width="0.22">T2-a</text>
<text x="787" y="462.74" font-size="7.4" fill="#2a2a52" font-family='"Liberation Serif","Noto Serif CJK SC",serif' textLength="12.2" lengthAdjust="spacingAndGlyphs" stroke="#2a2a52" stroke-width="0.22">T2-b</text>
<polygon points="828.3,519.8 832.4,523.6 832.4,540.5 828.3,544.3 824.2,540.5 824.2,523.6" fill="#fff27a" stroke="#a8902c" stroke-width="1"/>
<text x="828.3" y="535.02" font-size="9" fill="#463808" stroke="#463808" stroke-width="0.25" font-family='"Liberation Serif",serif' text-anchor="middle">R</text>
<line x1="837.8" y1="392.2" x2="837.8" y2="399.8" stroke="#474772" stroke-width="1"/>
<path d="M837.8 399.8 A4.3 4.13 0 0 1 837.8 408.07 A4.3 4.13 0 0 1 837.8 416.33 A4.3 4.13 0 0 1 837.8 424.6 A4.3 4.13 0 0 1 837.8 432.87 A4.3 4.13 0 0 1 837.8 441.13 A4.3 4.13 0 0 1 837.8 449.4" fill="none" stroke="#3434bc" stroke-width="1.1"/>
<line x1="844.4" y1="400.2" x2="844.4" y2="471.6" stroke="#7272cc" stroke-width="1.2"/>
<line x1="847.3" y1="400.2" x2="847.3" y2="471.6" stroke="#7272cc" stroke-width="1.2"/>
<line x1="853.5" y1="392" x2="853.5" y2="399.8" stroke="#474772" stroke-width="1"/>
<path d="M853.5 399.8 A4.3 4.13 0 0 0 853.5 408.07 A4.3 4.13 0 0 0 853.5 416.33 A4.3 4.13 0 0 0 853.5 424.6 A4.3 4.13 0 0 0 853.5 432.87 A4.3 4.13 0 0 0 853.5 441.13 A4.3 4.13 0 0 0 853.5 449.4" fill="none" stroke="#3434bc" stroke-width="1.1"/>
<line x1="853.5" y1="449.4" x2="853.5" y2="457.8" stroke="#474772" stroke-width="1"/>
<circle cx="841" cy="397.5" r="1.1" fill="#303060"/>
<circle cx="850.4" cy="397.5" r="1.1" fill="#303060"/>
<text x="842.3" y="387.94" font-size="7.4" fill="#2a2a52" font-family='"Liberation Serif","Noto Serif CJK SC",serif' stroke="#2a2a52" stroke-width="0.22">T3</text>
<line x1="853" y1="392" x2="1118" y2="392" stroke="#474772" stroke-width="1"/>
<line x1="853" y1="457.8" x2="1041" y2="457.8" stroke="#474772" stroke-width="1"/>
<circle cx="870" cy="392" r="1.8" fill="#6e0a0a"/>
<circle cx="887.3" cy="392" r="1.8" fill="#6e0a0a"/>
<circle cx="910.5" cy="392" r="1.8" fill="#1818c8"/>
<circle cx="955" cy="392" r="1.8" fill="#6e0a0a"/>
<circle cx="1018.4" cy="392" r="1.8" fill="#6e0a0a"/>
<circle cx="1108.4" cy="392" r="1.8" fill="#6e0a0a"/>
<polyline points="887.3 375 910.5 375 910.5 408 887.3 408 887.3 375" fill="none" stroke="#474772" stroke-width="1"/>
<polygon points="902.6,375 895.4,367.4 895.4,382.6" fill="#1818e0" stroke="none" stroke-width="0"/>
<line x1="902.6" y1="367.4" x2="902.6" y2="382.6" stroke="#1818e0" stroke-width="1.6"/>
<polygon points="902.6,408 895.4,400.4 895.4,415.6" fill="#1818e0" stroke="none" stroke-width="0"/>
<line x1="902.6" y1="400.4" x2="902.6" y2="415.6" stroke="#1818e0" stroke-width="1.6"/>
<text x="886.3" y="352.44" font-size="7.4" fill="#2a2a52" font-family='"Liberation Serif","Noto Serif CJK SC",serif' textLength="26.2" lengthAdjust="spacingAndGlyphs" stroke="#2a2a52" stroke-width="0.22">D101,102</text>
<text x="881.3" y="363.74" font-size="7.4" fill="#2a2a52" font-family='"Liberation Serif","Noto Serif CJK SC",serif' textLength="40" lengthAdjust="spacingAndGlyphs" stroke="#2a2a52" stroke-width="0.22">2*STTH60P03</text>
<polyline points="870 392 870 420 893.3 420" fill="none" stroke="#474772" stroke-width="1"/>
<line x1="893.3" y1="416.1" x2="893.3" y2="423.9" stroke="#6a6ac6" stroke-width="1.1"/>
<line x1="897" y1="416.1" x2="897" y2="423.9" stroke="#6a6ac6" stroke-width="1.1"/>
<line x1="897" y1="420" x2="908" y2="420" stroke="#474772" stroke-width="1"/>
<rect x="908" y="417.5" width="15.3" height="5" fill="#fffff6" stroke="#6a6ac6" stroke-width="1"/>
<line x1="923.3" y1="420" x2="955" y2="420" stroke="#474772" stroke-width="1"/>
<circle cx="955" cy="420" r="1.8" fill="#6e0a0a"/>
<text x="888.8" y="430.74" font-size="7.4" fill="#2a2a52" font-family='"Liberation Serif","Noto Serif CJK SC",serif' stroke="#2a2a52" stroke-width="0.22">C14</text>
<text x="875" y="437.44" font-size="7.4" fill="#2a2a52" font-family='"Liberation Serif","Noto Serif CJK SC",serif' textLength="28" lengthAdjust="spacingAndGlyphs" font-style="italic" stroke="#2a2a52" stroke-width="0.22">3n3/1600V</text>
<text x="912" y="430.74" font-size="7.4" fill="#2a2a52" font-family='"Liberation Serif","Noto Serif CJK SC",serif' stroke="#2a2a52" stroke-width="0.22">R60</text>
<text x="908.8" y="438.24" font-size="7.4" fill="#2a2a52" font-family='"Liberation Serif","Noto Serif CJK SC",serif' textLength="23" lengthAdjust="spacingAndGlyphs" stroke="#2a2a52" stroke-width="0.22">10Ω/2W</text>
<line x1="987.5" y1="392" x2="987.5" y2="419.3" stroke="#474772" stroke-width="1"/>
<circle cx="987.5" cy="419.3" r="1.8" fill="#1818c8"/>
<polyline points="972.5 457.8 972.5 419.3 1002.5 419.3 1002.5 457.8" fill="none" stroke="#474772" stroke-width="1"/>
<polygon points="972.5,427.5 964.9,435.8 980.1,435.8" fill="#1818e0" stroke="none" stroke-width="0"/>
<line x1="964.9" y1="427.5" x2="980.1" y2="427.5" stroke="#1818e0" stroke-width="1.6"/>
<polygon points="1002.5,427.5 994.9,435.8 1010.1,435.8" fill="#1818e0" stroke="none" stroke-width="0"/>
<line x1="994.9" y1="427.5" x2="1010.1" y2="427.5" stroke="#1818e0" stroke-width="1.6"/>
<circle cx="972.5" cy="457.8" r="1.8" fill="#6e0a0a"/>
<circle cx="1002.5" cy="457.8" r="1.8" fill="#6e0a0a"/>
<circle cx="1018.4" cy="457.8" r="1.8" fill="#6e0a0a"/>
<text x="973.3" y="468.24" font-size="7.4" fill="#2a2a52" font-family='"Liberation Serif","Noto Serif CJK SC",serif' textLength="26.2" lengthAdjust="spacingAndGlyphs" stroke="#2a2a52" stroke-width="0.22">D103,104</text>
<text x="968.8" y="477.44" font-size="7.4" fill="#2a2a52" font-family='"Liberation Serif","Noto Serif CJK SC",serif' textLength="40" lengthAdjust="spacingAndGlyphs" stroke="#2a2a52" stroke-width="0.22">2*STTH60P03</text>
<line x1="1018.4" y1="392" x2="1018.4" y2="405.8" stroke="#474772" stroke-width="1"/>
<rect x="1016.1" y="405.8" width="4.6" height="16.2" fill="#fffff6" stroke="#6a6ac6" stroke-width="1"/>
<line x1="1018.4" y1="422" x2="1018.4" y2="434.4" stroke="#474772" stroke-width="1"/>
<line x1="1014.5" y1="434.4" x2="1022.3" y2="434.4" stroke="#6a6ac6" stroke-width="1.1"/>
<line x1="1014.5" y1="438.4" x2="1022.3" y2="438.4" stroke="#6a6ac6" stroke-width="1.1"/>
<line x1="1018.4" y1="438.4" x2="1018.4" y2="457.8" stroke="#474772" stroke-width="1"/>
<text x="1021.3" y="412.44" font-size="7.4" fill="#2a2a52" font-family='"Liberation Serif","Noto Serif CJK SC",serif' stroke="#2a2a52" stroke-width="0.22">R59</text>
<text x="1021.3" y="420.74" font-size="7.4" fill="#2a2a52" font-family='"Liberation Serif","Noto Serif CJK SC",serif' textLength="23" lengthAdjust="spacingAndGlyphs" stroke="#2a2a52" stroke-width="0.22">10Ω/2W</text>
<text x="1022" y="436.94" font-size="7.4" fill="#2a2a52" font-family='"Liberation Serif","Noto Serif CJK SC",serif' stroke="#2a2a52" stroke-width="0.22">C15</text>
<text x="1022" y="445.44" font-size="7.4" fill="#2a2a52" font-family='"Liberation Serif","Noto Serif CJK SC",serif' textLength="29" lengthAdjust="spacingAndGlyphs" font-style="italic" stroke="#2a2a52" stroke-width="0.22">3n3/1600V</text>
<path d="M1041 457.8 C1041.5 445.6 1056.17 445.6 1056.67 457.8 C1057.17 445.6 1071.84 445.6 1072.34 457.8 C1072.84 445.6 1087.51 445.6 1088.01 457.8" fill="none" stroke="#3c3cb4" stroke-width="1.1"/>
<line x1="1037.5" y1="459.6" x2="1041" y2="457.8" stroke="#3c3cb4" stroke-width="1"/>
<line x1="1088" y1="457.8" x2="1118" y2="457.8" stroke="#474772" stroke-width="1"/>
<text x="1062.4" y="468.04" font-size="7.4" fill="#2a2a52" font-family='"Liberation Serif","Noto Serif CJK SC",serif' stroke="#2a2a52" stroke-width="0.22">L1</text>
<polygon points="1118,388.2 1137.2,388.2 1141,392 1137.2,395.8 1118,395.8" fill="#fff27a" stroke="#a8902c" stroke-width="1"/>
<text x="1127.6" y="394.68" font-size="7.5" fill="#463808" font-family='"Liberation Serif","Noto Serif CJK SC",serif' text-anchor="middle" textLength="17" lengthAdjust="spacingAndGlyphs" stroke="#463808" stroke-width="0.2">OUT+</text>
<polygon points="1118,454 1137.2,454 1141,457.8 1137.2,461.6 1118,461.6" fill="#fff27a" stroke="#a8902c" stroke-width="1"/>
<text x="1127.6" y="460.48" font-size="7.5" fill="#463808" font-family='"Liberation Serif","Noto Serif CJK SC",serif' text-anchor="middle" textLength="15" lengthAdjust="spacingAndGlyphs" stroke="#463808" stroke-width="0.2">OUT-</text>
<circle cx="1108.4" cy="457.8" r="1.8" fill="#6e0a0a"/>
<circle cx="1108.4" cy="421.6" r="1.8" fill="#6e0a0a"/>
<line x1="1108.4" y1="392" x2="1108.4" y2="406" stroke="#474772" stroke-width="1"/>
<line x1="1104.5" y1="406" x2="1112.3" y2="406" stroke="#6a6ac6" stroke-width="1.1"/>
<line x1="1104.5" y1="409.6" x2="1112.3" y2="409.6" stroke="#6a6ac6" stroke-width="1.1"/>
<line x1="1108.4" y1="409.6" x2="1108.4" y2="433" stroke="#474772" stroke-width="1"/>
<line x1="1104.5" y1="433" x2="1112.3" y2="433" stroke="#6a6ac6" stroke-width="1.1"/>
<line x1="1104.5" y1="436.6" x2="1112.3" y2="436.6" stroke="#6a6ac6" stroke-width="1.1"/>
<line x1="1108.4" y1="436.6" x2="1108.4" y2="577.4" stroke="#474772" stroke-width="1"/>
<text x="1115" y="406.84" font-size="7.4" fill="#2a2a52" font-family='"Liberation Serif","Noto Serif CJK SC",serif' stroke="#2a2a52" stroke-width="0.22">C25</text>
<text x="1114.4" y="414.78" font-size="7.2" fill="#2a2a52" font-family='"Liberation Serif","Noto Serif CJK SC",serif' textLength="43.6" lengthAdjust="spacingAndGlyphs" font-style="italic" stroke="#2a2a52" stroke-width="0.22">275VAC/0.47uf</text>
<text x="1115" y="438.04" font-size="7.4" fill="#2a2a52" font-family='"Liberation Serif","Noto Serif CJK SC",serif' stroke="#2a2a52" stroke-width="0.22">C26</text>
<text x="1115.4" y="445.38" font-size="7.2" fill="#2a2a52" font-family='"Liberation Serif","Noto Serif CJK SC",serif' textLength="43.6" lengthAdjust="spacingAndGlyphs" font-style="italic" stroke="#2a2a52" stroke-width="0.22">275VAC/0.47uf</text>
<polyline points="1108.4 421.6 1139.4 421.6 1139.4 430" fill="none" stroke="#474772" stroke-width="1"/>
<line x1="1131" y1="430" x2="1147" y2="430" stroke="#303078" stroke-width="1"/>
<line x1="1131" y1="430" x2="1127.8" y2="437" stroke="#303078" stroke-width="1"/>
<line x1="1139.4" y1="430" x2="1136.2" y2="437" stroke="#303078" stroke-width="1"/>
<line x1="1147" y1="430" x2="1143.8" y2="437" stroke="#303078" stroke-width="1"/>
<line x1="955" y1="392" x2="955" y2="498.8" stroke="#474772" stroke-width="1"/>
<polygon points="955,485.5 947.5,477.5 962.5,477.5" fill="#1818e0" stroke="none" stroke-width="0"/>
<line x1="947.5" y1="485.5" x2="962.5" y2="485.5" stroke="#1818e0" stroke-width="1.6"/>
<rect x="952.7" y="498.8" width="4.6" height="15.7" fill="#fffff6" stroke="#6a6ac6" stroke-width="1"/>
<polyline points="955 514.5 955 518.2 1018.4 518.2 1018.4 544" fill="none" stroke="#474772" stroke-width="1"/>
<text x="930.5" y="481.74" font-size="7.4" fill="#2a2a52" font-family='"Liberation Serif","Noto Serif CJK SC",serif' stroke="#2a2a52" stroke-width="0.22">D50</text>
<text x="922.5" y="489.94" font-size="7.4" fill="#2a2a52" font-family='"Liberation Serif","Noto Serif CJK SC",serif' textLength="24.5" lengthAdjust="spacingAndGlyphs" stroke="#2a2a52" stroke-width="0.22">BYG20G</text>
<text x="940.5" y="503.74" font-size="7.4" fill="#2a2a52" font-family='"Liberation Serif","Noto Serif CJK SC",serif' stroke="#2a2a52" stroke-width="0.22">R1</text>
<text x="938.8" y="511.94" font-size="7.4" fill="#2a2a52" font-family='"Liberation Serif","Noto Serif CJK SC",serif' stroke="#2a2a52" stroke-width="0.22">6.8K</text>
<circle cx="1018.4" cy="535.6" r="1.8" fill="#6e0a0a"/>
<polyline points="1018.4 535.6 1064.4 535.6 1064.4 552.4" fill="none" stroke="#474772" stroke-width="1"/>
<circle cx="1050.6" cy="535.6" r="1.8" fill="#6e0a0a"/>
<polygon points="1018.4,544 1011.2,551.8 1025.6,551.8" fill="#1818e0" stroke="none" stroke-width="0"/>
<polyline points="1010.4 547 1012.4 544 1024.4 544 1026.4 540.8" fill="none" stroke="#1818e0" stroke-width="1.4"/>
<polyline points="1018.4 551.8 1018.4 560.4 1000.7 560.4" fill="none" stroke="#474772" stroke-width="1"/>
<text x="1027.5" y="544.94" font-size="7.4" fill="#2a2a52" font-family='"Liberation Serif","Noto Serif CJK SC",serif' stroke="#2a2a52" stroke-width="0.22">D4</text>
<text x="1027.5" y="552.44" font-size="7.4" fill="#2a2a52" font-family='"Liberation Serif","Noto Serif CJK SC",serif' stroke="#2a2a52" stroke-width="0.22">4.7V</text>
<line x1="1050.6" y1="535.6" x2="1050.6" y2="557" stroke="#474772" stroke-width="1"/>
<rect x="1045.9" y="557" width="9.4" height="2.2" fill="#c8c8ee" stroke="#6a6ac6" stroke-width="1"/>
<line x1="1045.9" y1="562.4" x2="1055.3" y2="562.4" stroke="#6a6ac6" stroke-width="1.1"/>
<line x1="1052" y1="553.4" x2="1055.2" y2="553.4" stroke="#2a2a52" stroke-width="0.8"/>
<line x1="1053.6" y1="551.8" x2="1053.6" y2="555" stroke="#2a2a52" stroke-width="0.8"/>
<line x1="1050.6" y1="562.4" x2="1050.6" y2="577.4" stroke="#474772" stroke-width="1"/>
<circle cx="1050.6" cy="577.4" r="1.8" fill="#6e0a0a"/>
<text x="1029.5" y="563.24" font-size="7.4" fill="#2a2a52" font-family='"Liberation Serif","Noto Serif CJK SC",serif' stroke="#2a2a52" stroke-width="0.22">C28</text>
<text x="1020" y="571.24" font-size="7.4" fill="#2a2a52" font-family='"Liberation Serif","Noto Serif CJK SC",serif' textLength="29" lengthAdjust="spacingAndGlyphs" font-style="italic" stroke="#2a2a52" stroke-width="0.22">100uF/50V</text>
<rect x="1061.9" y="552.4" width="5" height="16.2" fill="#fffff6" stroke="#6a6ac6" stroke-width="1"/>
<line x1="1064.4" y1="568.6" x2="1064.4" y2="577.4" stroke="#474772" stroke-width="1"/>
<circle cx="1064.4" cy="577.4" r="1.8" fill="#6e0a0a"/>
<text x="1068.6" y="558.44" font-size="7.4" fill="#2a2a52" font-family='"Liberation Serif","Noto Serif CJK SC",serif' stroke="#2a2a52" stroke-width="0.22">R21</text>
<text x="1068.6" y="566.84" font-size="7.4" fill="#2a2a52" font-family='"Liberation Serif","Noto Serif CJK SC",serif' stroke="#2a2a52" stroke-width="0.22">2.2K</text>
<line x1="1000.7" y1="577.2" x2="1108.4" y2="577.4" stroke="#474772" stroke-width="1"/>
<rect x="958.8" y="555.9" width="50.4" height="26.4" fill="none" stroke="#7070d0" stroke-width="1.2" rx="1.2"/>
<text x="984" y="550.84" font-size="7.4" fill="#2a2a52" font-family='"Liberation Serif","Noto Serif CJK SC",serif' textLength="11" lengthAdjust="spacingAndGlyphs" stroke="#2a2a52" stroke-width="0.22">Q19</text>
<polyline points="950 560.7 966 560.7 975.6 566" fill="none" stroke="#474772" stroke-width="1"/>
<line x1="975.6" y1="563.4" x2="975.6" y2="575" stroke="#2020d8" stroke-width="1.8"/>
<line x1="975.6" y1="571.6" x2="970" y2="577.2" stroke="#474772" stroke-width="1"/>
<polygon points="970,577.2 971.08,573.47 973.73,576.12" fill="#1818e0" stroke="none" stroke-width="0"/>
<line x1="970" y1="577.2" x2="950" y2="577.2" stroke="#474772" stroke-width="1"/>
<polyline points="975.6 568.6 980.4 568.6 980.4 544.4" fill="none" stroke="#474772" stroke-width="1"/>
<line x1="1000.7" y1="560.4" x2="1000.7" y2="577.2" stroke="#474772" stroke-width="1"/>
<polygon points="994.8,564.4 1006.8,564.4 1000.8,572" fill="#1818e0" stroke="none" stroke-width="0"/>
<line x1="994.8" y1="572" x2="1006.8" y2="572" stroke="#1818e0" stroke-width="1.5"/>
<line x1="991.6" y1="566" x2="985" y2="566" stroke="#4040e0" stroke-width="1.3" stroke-dasharray="2.4 1.8"/>
<line x1="991.6" y1="570.5" x2="985" y2="570.5" stroke="#4040e0" stroke-width="1.3" stroke-dasharray="2.4 1.8"/>
<text x="888.9" y="526.04" font-size="7.4" fill="#2828c0" font-family='"Liberation Serif","Noto Serif CJK SC",serif' textLength="23" lengthAdjust="spacingAndGlyphs" stroke="#2828c0" stroke-width="0.22">+15VDC</text>
<circle cx="899.9" cy="530.3" r="2.4" fill="none" stroke="#3c3ca8" stroke-width="1"/>
<line x1="899.9" y1="532.7" x2="899.9" y2="535.6" stroke="#474772" stroke-width="1"/>
<circle cx="899.9" cy="535.6" r="1.8" fill="#6e0a0a"/>
<polyline points="899.9 535.6 950 535.6 950 540.4" fill="none" stroke="#474772" stroke-width="1"/>
<rect x="947.6" y="540.4" width="5.2" height="16" fill="#fffff6" stroke="#6a6ac6" stroke-width="1"/>
<line x1="950" y1="556.4" x2="950" y2="560.7" stroke="#474772" stroke-width="1"/>
<line x1="899.9" y1="535.6" x2="899.9" y2="540.4" stroke="#474772" stroke-width="1"/>
<rect x="897.5" y="540.4" width="5.2" height="16" fill="#fffff6" stroke="#6a6ac6" stroke-width="1"/>
<line x1="899.9" y1="556.4" x2="899.9" y2="568.4" stroke="#474772" stroke-width="1"/>
<text x="902.8" y="546.44" font-size="7.4" fill="#2a2a52" font-family='"Liberation Serif","Noto Serif CJK SC",serif' stroke="#2a2a52" stroke-width="0.22">R25</text>
<text x="902.8" y="554.84" font-size="7.4" fill="#2a2a52" font-family='"Liberation Serif","Noto Serif CJK SC",serif' stroke="#2a2a52" stroke-width="0.22">10K</text>
<text x="954" y="546.44" font-size="7.4" fill="#2a2a52" font-family='"Liberation Serif","Noto Serif CJK SC",serif' stroke="#2a2a52" stroke-width="0.22">R22</text>
<text x="952.9" y="554.84" font-size="7.4" fill="#2a2a52" font-family='"Liberation Serif","Noto Serif CJK SC",serif' textLength="14" lengthAdjust="spacingAndGlyphs" stroke="#2a2a52" stroke-width="0.22">100R</text>
<polygon points="840.4,552.6 844.2,548.4 860.1,548.4 863.9,552.6 860.1,556.8 844.2,556.8" fill="#fff27a" stroke="#a8902c" stroke-width="1"/>
<text x="852.15" y="555.41" font-size="7.9" fill="#463808" font-family='"Liberation Serif","Noto Serif CJK SC",serif' text-anchor="middle" textLength="7.4" lengthAdjust="spacingAndGlyphs" stroke="#463808" stroke-width="0.2">P1</text>
<polyline points="863.9 552.6 877.2 552.6 877.2 560.4 884.4 566.8" fill="none" stroke="#474772" stroke-width="1"/>
<line x1="884.4" y1="560.4" x2="884.4" y2="577.2" stroke="#4848b0" stroke-width="1.2"/>
<line x1="884.4" y1="568.4" x2="899.9" y2="568.4" stroke="#474772" stroke-width="1"/>
<line x1="884.4" y1="571" x2="877.6" y2="576" stroke="#474772" stroke-width="1"/>
<polygon points="877.2,576.6 879.26,571.28 882.8,575.49" fill="#1818e0" stroke="none" stroke-width="0"/>
<line x1="877.2" y1="576" x2="877.2" y2="601.5" stroke="#474772" stroke-width="1"/>
<line x1="899.9" y1="568.4" x2="907.9" y2="576.5" stroke="#474772" stroke-width="1"/>
<line x1="907.9" y1="568.9" x2="907.9" y2="584.4" stroke="#4848b0" stroke-width="1.2"/>
<line x1="907.9" y1="579" x2="900.4" y2="585.2" stroke="#474772" stroke-width="1"/>
<polygon points="900,585.8 902.06,580.48 905.6,584.69" fill="#1818e0" stroke="none" stroke-width="0"/>
<line x1="900.2" y1="585.2" x2="900.2" y2="601.5" stroke="#474772" stroke-width="1"/>
<line x1="907.9" y1="577.2" x2="934.8" y2="577.2" stroke="#474772" stroke-width="1"/>
<circle cx="922.8" cy="577.2" r="1.8" fill="#6e0a0a"/>
<rect x="934.8" y="574.6" width="15.2" height="5" fill="#fffff6" stroke="#6a6ac6" stroke-width="1"/>
<line x1="922.8" y1="577.2" x2="922.8" y2="581.5" stroke="#474772" stroke-width="1"/>
<rect x="920.3" y="581.5" width="5" height="16.2" fill="#fffff6" stroke="#6a6ac6" stroke-width="1"/>
<polyline points="922.8 597.7 922.8 601.5 877.2 601.5" fill="none" stroke="#474772" stroke-width="1"/>
<circle cx="877.2" cy="601.5" r="1.8" fill="#6e0a0a"/>
<circle cx="900.2" cy="601.5" r="1.8" fill="#6e0a0a"/>
<line x1="877.2" y1="601.5" x2="877.2" y2="609.2" stroke="#474772" stroke-width="1"/>
<line x1="877.2" y1="602.2" x2="877.2" y2="609.2" stroke="#d06040" stroke-width="1"/>
<line x1="869.6" y1="609.2" x2="884.8" y2="609.2" stroke="#d06040" stroke-width="0.9"/>
<line x1="872.4" y1="611.7" x2="882" y2="611.7" stroke="#d06040" stroke-width="0.9"/>
<line x1="874.7" y1="614.2" x2="879.7" y2="614.2" stroke="#d06040" stroke-width="0.9"/>
<line x1="876.5" y1="616.7" x2="877.9" y2="616.7" stroke="#d06040" stroke-width="0.9"/>
<text x="868.9" y="571.64" font-size="7.4" fill="#2a2a52" font-family='"Liberation Serif","Noto Serif CJK SC",serif' stroke="#2a2a52" stroke-width="0.22">Q6</text>
<text x="892" y="580.94" font-size="7.4" fill="#2a2a52" font-family='"Liberation Serif","Noto Serif CJK SC",serif' stroke="#2a2a52" stroke-width="0.22">Q5</text>
<text x="934.8" y="573.24" font-size="7.4" fill="#2a2a52" font-family='"Liberation Serif","Noto Serif CJK SC",serif' stroke="#2a2a52" stroke-width="0.22">R23</text>
<text x="934.8" y="586.04" font-size="7.4" fill="#2a2a52" font-family='"Liberation Serif","Noto Serif CJK SC",serif' stroke="#2a2a52" stroke-width="0.22">10K</text>
<text x="909.2" y="590.84" font-size="7.4" fill="#2a2a52" font-family='"Liberation Serif","Noto Serif CJK SC",serif' textLength="10.4" lengthAdjust="spacingAndGlyphs" stroke="#2a2a52" stroke-width="0.22">R24</text>
<text x="909.2" y="596.44" font-size="7.4" fill="#2a2a52" font-family='"Liberation Serif","Noto Serif CJK SC",serif' textLength="11.5" lengthAdjust="spacingAndGlyphs" stroke="#2a2a52" stroke-width="0.22">4.7K</text>
<polygon points="484.2,547.3 488,543.2 503.2,543.2 507,547.3 503.2,551.4 488,551.4" fill="#fff27a" stroke="#a8902c" stroke-width="1"/>
<text x="495.6" y="550.04" font-size="7.7" fill="#463808" font-family='"Liberation Serif","Noto Serif CJK SC",serif' text-anchor="middle" textLength="7.6" lengthAdjust="spacingAndGlyphs" stroke="#463808" stroke-width="0.2">P5</text>
<polygon points="483.8,572 487.6,567.9 503.2,567.9 507,572 503.2,576.1 487.6,576.1" fill="#fff27a" stroke="#a8902c" stroke-width="1"/>
<text x="495.4" y="574.74" font-size="7.7" fill="#463808" font-family='"Liberation Serif","Noto Serif CJK SC",serif' text-anchor="middle" textLength="7.6" lengthAdjust="spacingAndGlyphs" stroke="#463808" stroke-width="0.2">P6</text>
<polygon points="483.8,596.8 487.6,592.7 502.8,592.7 506.6,596.8 502.8,600.9 487.6,600.9" fill="#fff27a" stroke="#a8902c" stroke-width="1"/>
<text x="495.2" y="599.54" font-size="7.7" fill="#463808" font-family='"Liberation Serif","Noto Serif CJK SC",serif' text-anchor="middle" textLength="7.6" lengthAdjust="spacingAndGlyphs" stroke="#463808" stroke-width="0.2">P7</text>
<polyline points="484.2 547.3 465.8 547.3 465.8 560" fill="none" stroke="#474772" stroke-width="1"/>
<polyline points="465.8 560 463.4 562 468.2 566 463.4 570 468.2 574 463.4 578 468.2 582 465.8 583.8" fill="none" stroke="#3c3cb4" stroke-width="1"/>
<polyline points="465.8 583.8 465.8 596.8 483.8 596.8" fill="none" stroke="#474772" stroke-width="1"/>
<line x1="483.8" y1="572" x2="470" y2="572" stroke="#3c3cb4" stroke-width="1"/>
<polygon points="468.2,572 472,569.91 472,574.09" fill="#1818e0" stroke="none" stroke-width="0"/>
<text x="448.8" y="574.94" font-size="7.4" fill="#2a2a52" font-family='"Liberation Serif","Noto Serif CJK SC",serif' textLength="11.2" lengthAdjust="spacingAndGlyphs" stroke="#2a2a52" stroke-width="0.22">R17</text>
<text x="450.8" y="586.24" font-size="7.4" fill="#2a2a52" font-family='"Liberation Serif","Noto Serif CJK SC",serif' stroke="#2a2a52" stroke-width="0.22">10K</text>
<polygon points="483.8,652.5 487.6,648.4 502.6,648.4 506.4,652.5 502.6,656.6 487.6,656.6" fill="#fff27a" stroke="#a8902c" stroke-width="1"/>
<text x="495.1" y="655.24" font-size="7.7" fill="#463808" font-family='"Liberation Serif","Noto Serif CJK SC",serif' text-anchor="middle" textLength="9.8" lengthAdjust="spacingAndGlyphs" stroke="#463808" stroke-width="0.2">P17</text>
<line x1="415.8" y1="652.5" x2="461.3" y2="652.5" stroke="#474772" stroke-width="1"/>
<rect x="461.3" y="650" width="15" height="5" fill="#fffff6" stroke="#6a6ac6" stroke-width="1"/>
<line x1="476.3" y1="652.5" x2="483.8" y2="652.5" stroke="#474772" stroke-width="1"/>
<polygon points="431.6,652.6 439,648.4 439,656.9" fill="#1414e0" stroke="none" stroke-width="0"/>
<line x1="431.5" y1="648.2" x2="431.5" y2="657" stroke="#7070d8" stroke-width="1"/>
<line x1="422.8" y1="652.5" x2="415.8" y2="652.5" stroke="#d06040" stroke-width="1"/>
<line x1="415.8" y1="646.2" x2="415.8" y2="658.8" stroke="#d06040" stroke-width="0.9"/>
<line x1="413.3" y1="648.3" x2="413.3" y2="656.7" stroke="#d06040" stroke-width="0.9"/>
<line x1="410.8" y1="650.2" x2="410.8" y2="654.8" stroke="#d06040" stroke-width="0.9"/>
<line x1="408.3" y1="651.9" x2="408.3" y2="653.1" stroke="#d06040" stroke-width="0.9"/>
<text x="411.3" y="643.98" font-size="6.6" fill="#2a2a52" font-family='"Liberation Serif","Noto Serif CJK SC",serif' textLength="32" lengthAdjust="spacingAndGlyphs" stroke="#2a2a52" stroke-width="0.22">(黄色) D8</text>
<polyline points="437.5 658 433.5 661 435.7 661.6 431.5 665" fill="none" stroke="#e03020" stroke-width="0.9"/>
<polyline points="440.3 659.5 436.3 662.5 438.5 663.1 434.3 666.5" fill="none" stroke="#e03020" stroke-width="0.9"/>
<text x="461.3" y="647.94" font-size="7.4" fill="#2a2a52" font-family='"Liberation Serif","Noto Serif CJK SC",serif' stroke="#2a2a52" stroke-width="0.22">R19</text>
<text x="461.3" y="662.44" font-size="7.4" fill="#2a2a52" font-family='"Liberation Serif","Noto Serif CJK SC",serif' stroke="#2a2a52" stroke-width="0.22">10K</text>
<text x="460.5" y="679.44" font-size="7.4" fill="#2828c0" font-family='"Liberation Serif","Noto Serif CJK SC",serif' textLength="24" lengthAdjust="spacingAndGlyphs" stroke="#2828c0" stroke-width="0.22">+15VDC</text>
<circle cx="472.5" cy="684.3" r="2.4" fill="none" stroke="#3c3ca8" stroke-width="1"/>
<polyline points="472.5 686.7 472.5 689.6 482 689.6" fill="none" stroke="#474772" stroke-width="1"/>
<circle cx="482" cy="689.6" r="1.8" fill="#6e0a0a"/>
<polygon points="482,682 485.8,677.9 501.2,677.9 505,682 501.2,686.1 485.8,686.1" fill="#fff27a" stroke="#a8902c" stroke-width="1"/>
<text x="493.5" y="684.74" font-size="7.7" fill="#463808" font-family='"Liberation Serif","Noto Serif CJK SC",serif' text-anchor="middle" textLength="7.6" lengthAdjust="spacingAndGlyphs" stroke="#463808" stroke-width="0.2">P4</text>
<polygon points="482,696.8 485.8,692.7 501.7,692.7 505.5,696.8 501.7,700.9 485.8,700.9" fill="#fff27a" stroke="#a8902c" stroke-width="1"/>
<text x="493.75" y="699.54" font-size="7.7" fill="#463808" font-family='"Liberation Serif","Noto Serif CJK SC",serif' text-anchor="middle" textLength="9.8" lengthAdjust="spacingAndGlyphs" stroke="#463808" stroke-width="0.2">P15</text>
<line x1="482" y1="682" x2="482" y2="696.8" stroke="#474772" stroke-width="1"/>
<polygon points="482,710.8 485.8,706.7 501.7,706.7 505.5,710.8 501.7,714.9 485.8,714.9" fill="#fff27a" stroke="#a8902c" stroke-width="1"/>
<text x="493.75" y="713.54" font-size="7.7" fill="#463808" font-family='"Liberation Serif","Noto Serif CJK SC",serif' text-anchor="middle" textLength="7.6" lengthAdjust="spacingAndGlyphs" stroke="#463808" stroke-width="0.2">P3</text>
<polygon points="482,725 485.8,720.9 501.7,720.9 505.5,725 501.7,729.1 485.8,729.1" fill="#fff27a" stroke="#a8902c" stroke-width="1"/>
<text x="493.75" y="727.74" font-size="7.7" fill="#463808" font-family='"Liberation Serif","Noto Serif CJK SC",serif' text-anchor="middle" textLength="9.8" lengthAdjust="spacingAndGlyphs" stroke="#463808" stroke-width="0.2">P10</text>
<polygon points="482,739.3 485.8,735.2 501.7,735.2 505.5,739.3 501.7,743.4 485.8,743.4" fill="#fff27a" stroke="#a8902c" stroke-width="1"/>
<text x="493.75" y="742.04" font-size="7.7" fill="#463808" font-family='"Liberation Serif","Noto Serif CJK SC",serif' text-anchor="middle" textLength="9.8" lengthAdjust="spacingAndGlyphs" stroke="#463808" stroke-width="0.2">P11</text>
<polygon points="482,753 485.8,748.9 501.7,748.9 505.5,753 501.7,757.1 485.8,757.1" fill="#fff27a" stroke="#a8902c" stroke-width="1"/>
<text x="493.75" y="755.74" font-size="7.7" fill="#463808" font-family='"Liberation Serif","Noto Serif CJK SC",serif' text-anchor="middle" textLength="9.8" lengthAdjust="spacingAndGlyphs" stroke="#463808" stroke-width="0.2">P16</text>
<line x1="482" y1="710.8" x2="482" y2="753" stroke="#474772" stroke-width="1"/>
<circle cx="482" cy="725" r="1.8" fill="#6e0a0a"/>
<circle cx="482" cy="732.5" r="1.8" fill="#6e0a0a"/>
<circle cx="482" cy="739.3" r="1.8" fill="#6e0a0a"/>
<polyline points="482 732.5 469.3 732.5 469.3 740.5" fill="none" stroke="#a07878" stroke-width="1"/>
<line x1="469.3" y1="733.5" x2="469.3" y2="740.5" stroke="#d06040" stroke-width="1"/>
<line x1="461.7" y1="740.5" x2="476.9" y2="740.5" stroke="#d06040" stroke-width="0.9"/>
<line x1="464.5" y1="743" x2="474.1" y2="743" stroke="#d06040" stroke-width="0.9"/>
<line x1="466.8" y1="745.5" x2="471.8" y2="745.5" stroke="#d06040" stroke-width="0.9"/>
<line x1="468.6" y1="748" x2="470" y2="748" stroke="#d06040" stroke-width="0.9"/>
<polygon points="478.1,811.8 481.9,807.7 497.2,807.7 501,811.8 497.2,815.9 481.9,815.9" fill="#fff27a" stroke="#a8902c" stroke-width="1"/>
<text x="489.55" y="814.54" font-size="7.7" fill="#463808" font-family='"Liberation Serif","Noto Serif CJK SC",serif' text-anchor="middle" textLength="9.8" lengthAdjust="spacingAndGlyphs" stroke="#463808" stroke-width="0.2">P14</text>
<polygon points="478.1,828.2 481.9,824.1 497.2,824.1 501,828.2 497.2,832.3 481.9,832.3" fill="#fff27a" stroke="#a8902c" stroke-width="1"/>
<text x="489.55" y="830.94" font-size="7.7" fill="#463808" font-family='"Liberation Serif","Noto Serif CJK SC",serif' text-anchor="middle" textLength="9.8" lengthAdjust="spacingAndGlyphs" stroke="#463808" stroke-width="0.2">P13</text>
<line x1="427.1" y1="811.9" x2="478.1" y2="811.9" stroke="#474772" stroke-width="1"/>
<circle cx="467.1" cy="811.9" r="1.8" fill="#6e0a0a"/>
<line x1="467.1" y1="811.8" x2="467.1" y2="803.3" stroke="#474772" stroke-width="1"/>
<line x1="463.1" y1="799.4" x2="471.3" y2="799.4" stroke="#6a6ac6" stroke-width="1.1"/>
<line x1="463.1" y1="803.3" x2="471.3" y2="803.3" stroke="#6a6ac6" stroke-width="1.1"/>
<line x1="467.1" y1="799.4" x2="467.1" y2="783.2" stroke="#d06040" stroke-width="1"/>
<line x1="467.3" y1="790.2" x2="467.3" y2="783.2" stroke="#d06040" stroke-width="1"/>
<line x1="459" y1="783.2" x2="475.6" y2="783.2" stroke="#d06040" stroke-width="0.9"/>
<line x1="462" y1="780.5" x2="472.6" y2="780.5" stroke="#d06040" stroke-width="0.9"/>
<line x1="464.6" y1="777.8" x2="470" y2="777.8" stroke="#d06040" stroke-width="0.9"/>
<line x1="466.6" y1="775.1" x2="468" y2="775.1" stroke="#d06040" stroke-width="0.9"/>
<polyline points="478.1 828.2 446.5 828.2 446.5 851.2 427.1 851.2" fill="none" stroke="#474772" stroke-width="1"/>
<circle cx="467.1" cy="828.2" r="1.8" fill="#6e0a0a"/>
<line x1="467.1" y1="828.2" x2="467.1" y2="836.9" stroke="#474772" stroke-width="1"/>
<line x1="463.1" y1="836.9" x2="471.3" y2="836.9" stroke="#6a6ac6" stroke-width="1.1"/>
<line x1="463.1" y1="840.5" x2="471.3" y2="840.5" stroke="#6a6ac6" stroke-width="1.1"/>
<line x1="467.1" y1="840.5" x2="467.1" y2="857" stroke="#d06040" stroke-width="1"/>
<line x1="467.3" y1="850" x2="467.3" y2="857" stroke="#d06040" stroke-width="1"/>
<line x1="459" y1="857" x2="475.6" y2="857" stroke="#d06040" stroke-width="0.9"/>
<line x1="462" y1="859.7" x2="472.6" y2="859.7" stroke="#d06040" stroke-width="0.9"/>
<line x1="464.6" y1="862.4" x2="470" y2="862.4" stroke="#d06040" stroke-width="0.9"/>
<line x1="466.6" y1="865.1" x2="468" y2="865.1" stroke="#d06040" stroke-width="0.9"/>
<line x1="427.1" y1="811.8" x2="427.1" y2="851.3" stroke="#474772" stroke-width="1"/>
<path d="M427 811.8 A2.8 3 0 1 0 427 817.8" fill="#a8a8e6" stroke="#5050c8" stroke-width="1.1"/>
<path d="M427 822.4 A2.8 3 0 1 0 427 828.4" fill="#a8a8e6" stroke="#5050c8" stroke-width="1.1"/>
<path d="M427 834.7 A2.8 3 0 1 0 427 840.7" fill="#a8a8e6" stroke="#5050c8" stroke-width="1.1"/>
<path d="M427 845.4 A2.8 3 0 1 0 427 851.4" fill="#a8a8e6" stroke="#5050c8" stroke-width="1.1"/>
<text x="450.8" y="799.94" font-size="7.4" fill="#2a2a52" font-family='"Liberation Serif","Noto Serif CJK SC",serif' stroke="#2a2a52" stroke-width="0.22">C35</text>
<text x="451.5" y="807.44" font-size="7.4" fill="#2a2a52" font-family='"Liberation Serif","Noto Serif CJK SC",serif' stroke="#2a2a52" stroke-width="0.22">102</text>
<text x="452" y="839.44" font-size="7.4" fill="#2a2a52" font-family='"Liberation Serif","Noto Serif CJK SC",serif' stroke="#2a2a52" stroke-width="0.22">C34</text>
<text x="453" y="847.44" font-size="7.4" fill="#2a2a52" font-family='"Liberation Serif","Noto Serif CJK SC",serif' stroke="#2a2a52" stroke-width="0.22">102</text>
<text x="371.2" y="823.24" font-size="6.8" fill="#202038" font-family='"Liberation Serif","Noto Serif CJK SC",serif' textLength="50.9" lengthAdjust="spacingAndGlyphs" stroke="#202038" stroke-width="0.22">over heat protector</text>
<text x="371.2" y="846.74" font-size="6.8" fill="#202038" font-family='"Liberation Serif","Noto Serif CJK SC",serif' textLength="50.9" lengthAdjust="spacingAndGlyphs" stroke="#202038" stroke-width="0.22">over heat protector</text>
<polygon points="577.6,913.3 581.7,917.1 581.7,935 577.6,938.8 573.5,935 573.5,917.1" fill="#fff27a" stroke="#a8902c" stroke-width="1"/>
<text x="577.6" y="928.02" font-size="5.8" fill="#463808" stroke="#463808" stroke-width="0.2" font-family='"Liberation Serif",serif' text-anchor="middle" transform="rotate(-90 577.6 926.05)">P12</text>
<line x1="577.6" y1="938.8" x2="577.6" y2="966.3" stroke="#474772" stroke-width="1"/>
<polyline points="577.6 956.3 553 956.3 553 961.3" fill="none" stroke="#474772" stroke-width="1"/>
<rect x="550.6" y="961.3" width="5" height="16.2" fill="#fffff6" stroke="#6a6ac6" stroke-width="1"/>
<polyline points="553 977.5 553 981.8 577.6 981.8 577.6 972.5" fill="none" stroke="#474772" stroke-width="1"/>
<rect x="572.7" y="966.3" width="8.8" height="2.5" fill="#c8c8ee" stroke="#6a6ac6" stroke-width="1"/>
<line x1="572.7" y1="972.5" x2="581.5" y2="972.5" stroke="#6a6ac6" stroke-width="1.1"/>
<line x1="578.8" y1="963" x2="582" y2="963" stroke="#2a2a52" stroke-width="0.8"/>
<line x1="580.4" y1="961.4" x2="580.4" y2="964.6" stroke="#2a2a52" stroke-width="0.8"/>
<circle cx="564.3" cy="981.8" r="1.8" fill="#6e0a0a"/>
<line x1="564.3" y1="981.8" x2="564.3" y2="990" stroke="#d06040" stroke-width="1"/>
<line x1="564.3" y1="983" x2="564.3" y2="990" stroke="#d06040" stroke-width="1"/>
<line x1="556.7" y1="990" x2="571.9" y2="990" stroke="#d06040" stroke-width="0.9"/>
<line x1="559.5" y1="992.5" x2="569.1" y2="992.5" stroke="#d06040" stroke-width="0.9"/>
<line x1="561.8" y1="995" x2="566.8" y2="995" stroke="#d06040" stroke-width="0.9"/>
<line x1="563.6" y1="997.5" x2="565" y2="997.5" stroke="#d06040" stroke-width="0.9"/>
<text x="555.5" y="968.24" font-size="7.4" fill="#2a2a52" font-family='"Liberation Serif","Noto Serif CJK SC",serif' stroke="#2a2a52" stroke-width="0.22">R61</text>
<text x="555.8" y="976.24" font-size="7.4" fill="#2a2a52" font-family='"Liberation Serif","Noto Serif CJK SC",serif' stroke="#2a2a52" stroke-width="0.22">47K</text>
<text x="582" y="968.24" font-size="7.4" fill="#2a2a52" font-family='"Liberation Serif","Noto Serif CJK SC",serif' stroke="#2a2a52" stroke-width="0.22">C27</text>
<text x="582" y="976.24" font-size="7.4" fill="#2a2a52" font-family='"Liberation Serif","Noto Serif CJK SC",serif' textLength="26.8" lengthAdjust="spacingAndGlyphs" font-style="italic" stroke="#2a2a52" stroke-width="0.22">10uF/50V</text>
<polygon points="659.5,913.3 663.6,917.1 663.6,934.2 659.5,938 655.4,934.2 655.4,917.1" fill="#fff27a" stroke="#a8902c" stroke-width="1"/>
<text x="659.5" y="927.62" font-size="5.8" fill="#463808" stroke="#463808" stroke-width="0.2" font-family='"Liberation Serif",serif' text-anchor="middle" transform="rotate(-90 659.5 925.65)">P18</text>
<polyline points="659.6 938 659.6 1005.3 663.2 1005.3" fill="none" stroke="#474772" stroke-width="1"/>
<rect x="663.2" y="1002.8" width="15.7" height="4.8" fill="#fffff6" stroke="#6a6ac6" stroke-width="1"/>
<line x1="678.9" y1="1005.3" x2="705" y2="1005.3" stroke="#474772" stroke-width="1"/>
<circle cx="689.6" cy="1005.3" r="1.8" fill="#6e0a0a"/>
<line x1="689.6" y1="1005.3" x2="689.6" y2="1009.5" stroke="#474772" stroke-width="1"/>
<rect x="687.1" y="1009.5" width="5" height="15.9" fill="#fffff6" stroke="#6a6ac6" stroke-width="1"/>
<polyline points="689.6 1025.4 689.6 1029.7 712.6 1029.7" fill="none" stroke="#474772" stroke-width="1"/>
<circle cx="689.6" cy="1029.7" r="1.8" fill="#6e0a0a"/>
<circle cx="712.6" cy="1029.7" r="1.8" fill="#6e0a0a"/>
<line x1="705" y1="997.2" x2="705" y2="1013.4" stroke="#4848b0" stroke-width="1.3"/>
<polyline points="705 1002.2 712.6 997.2 712.6 982.4" fill="none" stroke="#474772" stroke-width="1"/>
<polyline points="705 1008.4 712.6 1013.4 712.6 1037.5" fill="none" stroke="#474772" stroke-width="1"/>
<polygon points="712.8,1013.8 706.67,1013.14 710.08,1008.27" fill="#1818e0" stroke="none" stroke-width="0"/>
<line x1="712.6" y1="1030.5" x2="712.6" y2="1037.5" stroke="#d06040" stroke-width="1"/>
<line x1="705" y1="1037.5" x2="720.2" y2="1037.5" stroke="#d06040" stroke-width="0.9"/>
<line x1="707.8" y1="1040" x2="717.4" y2="1040" stroke="#d06040" stroke-width="0.9"/>
<line x1="710.1" y1="1042.5" x2="715.1" y2="1042.5" stroke="#d06040" stroke-width="0.9"/>
<line x1="711.9" y1="1045" x2="713.3" y2="1045" stroke="#d06040" stroke-width="0.9"/>
<rect x="682.3" y="954.1" width="22.7" height="25.2" fill="#c2c2c2" stroke="#8c8c8c" stroke-width="1.1"/>
<polyline points="674.2 958.2 688.2 958.2 688.2 961.5" fill="none" stroke="#303050" stroke-width="1"/>
<polygon points="689.6,963 687.54,961.2 690.02,960.29" fill="#303050" stroke="none" stroke-width="0"/>
<polyline points="692.4 964.2 689.3 973.1 689.3 974.5 674.2 974.5" fill="none" stroke="#303050" stroke-width="1"/>
<text x="701.4" y="960.51" font-size="7" fill="#2a2a52" font-family='"Liberation Serif","Noto Serif CJK SC",serif' text-anchor="middle" stroke="#2a2a52" stroke-width="0.22">+</text>
<text x="701.4" y="976.64" font-size="8" fill="#2a2a52" font-family='"Liberation Serif","Noto Serif CJK SC",serif' text-anchor="middle" stroke="#2a2a52" stroke-width="0.22">-</text>
<text x="700.8" y="949.04" font-size="7.4" fill="#2828c0" font-family='"Liberation Serif","Noto Serif CJK SC",serif' textLength="23.4" lengthAdjust="spacingAndGlyphs" stroke="#2828c0" stroke-width="0.22">+24VDC</text>
<rect x="711" y="951.1" width="3.2" height="3.3" fill="#fffff6" stroke="#3c3ca8" stroke-width="0.9"/>
<circle cx="712.6" cy="958.2" r="1.8" fill="#6e0a0a"/>
<polyline points="705 958.2 729.2 958.2 729.2 982.4 712.6 982.4" fill="none" stroke="#474772" stroke-width="1"/>
<circle cx="712.6" cy="982.4" r="1.8" fill="#6e0a0a"/>
<polyline points="705 974.5 711.6 974.5 712.6 975.5 712.6 982.4" fill="none" stroke="#474772" stroke-width="1"/>
<polygon points="729.2,966 721.7,974.2 736.7,974.2" fill="#1818e0" stroke="none" stroke-width="0"/>
<line x1="721.7" y1="966" x2="736.7" y2="966" stroke="#1818e0" stroke-width="1.6"/>
<polyline points="721.5 967.4 721.5 966 736.9 966 736.9 964.6" fill="none" stroke="#1818e0" stroke-width="1.2"/>
<text x="736.9" y="972.44" font-size="7.4" fill="#2a2a52" font-family='"Liberation Serif","Noto Serif CJK SC",serif' stroke="#2a2a52" stroke-width="0.22">D29</text>
<text x="736.9" y="980.44" font-size="7.4" fill="#2a2a52" font-family='"Liberation Serif","Noto Serif CJK SC",serif' textLength="24.6" lengthAdjust="spacingAndGlyphs" stroke="#2a2a52" stroke-width="0.22">BYG20G</text>
<text x="683.1" y="953.14" font-size="7.4" fill="#2a2a52" font-family='"Liberation Serif","Noto Serif CJK SC",serif' stroke="#2a2a52" stroke-width="0.22">K2</text>
<text x="683.1" y="985.04" font-size="7.4" fill="#2a2a52" font-family='"Liberation Serif","Noto Serif CJK SC",serif' textLength="12.4" lengthAdjust="spacingAndGlyphs" stroke="#2a2a52" stroke-width="0.22">24VJ</text>
<text x="667.2" y="954.84" font-size="7.4" fill="#2a2a52" font-family='"Liberation Serif","Noto Serif CJK SC",serif' textLength="12.6" lengthAdjust="spacingAndGlyphs" stroke="#2a2a52" stroke-width="0.22">K2-1</text>
<text x="667.2" y="972.44" font-size="7.4" fill="#2a2a52" font-family='"Liberation Serif","Noto Serif CJK SC",serif' textLength="12.6" lengthAdjust="spacingAndGlyphs" stroke="#2a2a52" stroke-width="0.22">K2-2</text>
<text x="664.4" y="994.04" font-size="7.4" fill="#2a2a52" font-family='"Liberation Serif","Noto Serif CJK SC",serif' stroke="#2a2a52" stroke-width="0.22">R46</text>
<text x="664.4" y="1000.74" font-size="7.4" fill="#2a2a52" font-family='"Liberation Serif","Noto Serif CJK SC",serif' stroke="#2a2a52" stroke-width="0.22">10K</text>
<text x="673.4" y="1016.44" font-size="7.4" fill="#2a2a52" font-family='"Liberation Serif","Noto Serif CJK SC",serif' stroke="#2a2a52" stroke-width="0.22">R45</text>
<text x="672.2" y="1025.44" font-size="7.4" fill="#2a2a52" font-family='"Liberation Serif","Noto Serif CJK SC",serif' stroke="#2a2a52" stroke-width="0.22">4.7K</text>
<text x="714.8" y="1007.74" font-size="7.4" fill="#2a2a52" font-family='"Liberation Serif","Noto Serif CJK SC",serif' stroke="#2a2a52" stroke-width="0.22">Q3</text>
<polygon points="829.6,914 833.7,917.8 833.7,935.8 829.6,939.6 825.5,935.8 825.5,917.8" fill="#fff27a" stroke="#a8902c" stroke-width="1"/>
<text x="829.6" y="928.77" font-size="5.8" fill="#463808" stroke="#463808" stroke-width="0.2" font-family='"Liberation Serif",serif' text-anchor="middle" transform="rotate(-90 829.6 926.8)">P8</text>
<line x1="829.5" y1="939.4" x2="829.5" y2="943.3" stroke="#474772" stroke-width="1"/>
<rect x="827" y="943.3" width="5" height="16.7" fill="#fffff6" stroke="#6a6ac6" stroke-width="1"/>
<line x1="829.5" y1="960" x2="829.5" y2="972.5" stroke="#d06040" stroke-width="1"/>
<line x1="829.5" y1="965.5" x2="829.5" y2="972.5" stroke="#d06040" stroke-width="1"/>
<line x1="821.9" y1="972.5" x2="837.1" y2="972.5" stroke="#d06040" stroke-width="0.9"/>
<line x1="824.7" y1="975" x2="834.3" y2="975" stroke="#d06040" stroke-width="0.9"/>
<line x1="827" y1="977.5" x2="832" y2="977.5" stroke="#d06040" stroke-width="0.9"/>
<line x1="828.8" y1="980" x2="830.2" y2="980" stroke="#d06040" stroke-width="0.9"/>
<text x="832.5" y="950.44" font-size="7.4" fill="#2a2a52" font-family='"Liberation Serif","Noto Serif CJK SC",serif' stroke="#2a2a52" stroke-width="0.22">R20</text>
<text x="832.5" y="958.24" font-size="7.4" fill="#2a2a52" font-family='"Liberation Serif","Noto Serif CJK SC",serif' stroke="#2a2a52" stroke-width="0.22">25R</text>
<polygon points="836.3,779.3 840.1,775.2 855.5,775.2 859.3,779.3 855.5,783.4 840.1,783.4" fill="#fff27a" stroke="#a8902c" stroke-width="1"/>
<text x="847.8" y="782.04" font-size="7.7" fill="#463808" font-family='"Liberation Serif","Noto Serif CJK SC",serif' text-anchor="middle" textLength="7.4" lengthAdjust="spacingAndGlyphs" stroke="#463808" stroke-width="0.2">P2</text>
<line x1="859.3" y1="779.4" x2="867.6" y2="779.4" stroke="#474772" stroke-width="1"/>
<rect x="867.6" y="776.8" width="15.1" height="5.2" fill="#fffff6" stroke="#6a6ac6" stroke-width="1"/>
<line x1="882.7" y1="779.4" x2="903.7" y2="779.4" stroke="#474772" stroke-width="1"/>
<circle cx="890.3" cy="779.4" r="1.8" fill="#6e0a0a"/>
<line x1="890.3" y1="779.4" x2="890.3" y2="788.5" stroke="#474772" stroke-width="1"/>
<rect x="887.9" y="788.5" width="4.8" height="16.3" fill="#fffff6" stroke="#6a6ac6" stroke-width="1"/>
<polyline points="890.3 804.8 890.3 812.9 913.2 812.9 913.2 786.3" fill="none" stroke="#474772" stroke-width="1"/>
<circle cx="901.6" cy="812.9" r="1.8" fill="#6e0a0a"/>
<line x1="901.6" y1="812.9" x2="901.6" y2="821.4" stroke="#d06040" stroke-width="1"/>
<line x1="901.6" y1="814.4" x2="901.6" y2="821.4" stroke="#d06040" stroke-width="1"/>
<line x1="894" y1="821.4" x2="909.2" y2="821.4" stroke="#d06040" stroke-width="0.9"/>
<line x1="896.8" y1="823.9" x2="906.4" y2="823.9" stroke="#d06040" stroke-width="0.9"/>
<line x1="899.1" y1="826.4" x2="904.1" y2="826.4" stroke="#d06040" stroke-width="0.9"/>
<line x1="900.9" y1="828.9" x2="902.3" y2="828.9" stroke="#d06040" stroke-width="0.9"/>
<line x1="904.1" y1="772.3" x2="904.1" y2="786.9" stroke="#9494dc" stroke-width="2.4"/>
<polyline points="905.3 773.4 913.2 773.4 913.2 735.1" fill="none" stroke="#474772" stroke-width="1"/>
<line x1="905.3" y1="785.5" x2="913.2" y2="785.5" stroke="#474772" stroke-width="1"/>
<line x1="913.2" y1="779.3" x2="913.2" y2="786.3" stroke="#474772" stroke-width="1"/>
<line x1="898" y1="779.3" x2="904" y2="779.3" stroke="#5050d0" stroke-width="1"/>
<line x1="908" y1="779.3" x2="913.2" y2="779.3" stroke="#1818e0" stroke-width="1"/>
<polygon points="905.4,779.3 910.2,776.66 910.2,781.94" fill="#1818e0" stroke="none" stroke-width="0"/>
<text x="919.2" y="777.84" font-size="7.4" fill="#2a2a52" font-family='"Liberation Serif","Noto Serif CJK SC",serif' textLength="11.8" lengthAdjust="spacingAndGlyphs" stroke="#2a2a52" stroke-width="0.22">Q18</text>
<text x="915.8" y="785.44" font-size="7.4" fill="#2a2a52" font-family='"Liberation Serif","Noto Serif CJK SC",serif' textLength="24.1" lengthAdjust="spacingAndGlyphs" stroke="#2a2a52" stroke-width="0.22">IRFD110</text>
<text x="871.3" y="766.14" font-size="7.4" fill="#2a2a52" font-family='"Liberation Serif","Noto Serif CJK SC",serif' stroke="#2a2a52" stroke-width="0.22">R44</text>
<text x="869.3" y="773.64" font-size="7.4" fill="#2a2a52" font-family='"Liberation Serif","Noto Serif CJK SC",serif' textLength="13.4" lengthAdjust="spacingAndGlyphs" stroke="#2a2a52" stroke-width="0.22">470R</text>
<text x="876.3" y="799.64" font-size="7.4" fill="#2a2a52" font-family='"Liberation Serif","Noto Serif CJK SC",serif' stroke="#2a2a52" stroke-width="0.22">R43</text>
<text x="878.5" y="807.24" font-size="7.4" fill="#2a2a52" font-family='"Liberation Serif","Noto Serif CJK SC",serif' stroke="#2a2a52" stroke-width="0.22">1K</text>
<text x="901.7" y="632.44" font-size="7.4" fill="#2828c0" font-family='"Liberation Serif","Noto Serif CJK SC",serif' textLength="23" lengthAdjust="spacingAndGlyphs" stroke="#2828c0" stroke-width="0.22">+15VDC</text>
<circle cx="913" cy="636.3" r="2.4" fill="none" stroke="#3c3ca8" stroke-width="1"/>
<polyline points="913 638.7 913 701.8 928.4 701.8" fill="none" stroke="#474772" stroke-width="1"/>
<circle cx="913" cy="651.6" r="1.8" fill="#6e0a0a"/>
<circle cx="897" cy="651.6" r="1.8" fill="#6e0a0a"/>
<line x1="871" y1="651.6" x2="885.7" y2="651.6" stroke="#d06040" stroke-width="1"/>
<line x1="885.7" y1="647.6" x2="885.7" y2="655.6" stroke="#6a6ac6" stroke-width="1.1"/>
<line x1="889.4" y1="647.6" x2="889.4" y2="655.6" stroke="#6a6ac6" stroke-width="1.1"/>
<line x1="889.4" y1="651.6" x2="913" y2="651.6" stroke="#474772" stroke-width="1"/>
<line x1="878" y1="651.6" x2="871" y2="651.6" stroke="#d06040" stroke-width="1"/>
<line x1="871" y1="643.2" x2="871" y2="660" stroke="#d06040" stroke-width="0.9"/>
<line x1="868.5" y1="646.1" x2="868.5" y2="657.1" stroke="#d06040" stroke-width="0.9"/>
<line x1="866" y1="648.6" x2="866" y2="654.6" stroke="#d06040" stroke-width="0.9"/>
<line x1="863.5" y1="650.8" x2="863.5" y2="652.4" stroke="#d06040" stroke-width="0.9"/>
<text x="881.9" y="645.94" font-size="7.4" fill="#2a2a52" font-family='"Liberation Serif","Noto Serif CJK SC",serif' stroke="#2a2a52" stroke-width="0.22">C22</text>
<polyline points="897 651.6 897 735.1 928.4 735.1" fill="none" stroke="#474772" stroke-width="1"/>
<circle cx="913" cy="735.1" r="1.8" fill="#6e0a0a"/>
<polygon points="897,674.1 889.3,667 904.7,667" fill="#1818e0" stroke="none" stroke-width="0"/>
<polyline points="888.5 677.1 890.5 674.1 903.5 674.1 905.5 670.9" fill="none" stroke="#1818e0" stroke-width="1.4"/>
<polygon points="897,698.5 889.3,691.4 904.7,691.4" fill="#1818e0" stroke="none" stroke-width="0"/>
<polyline points="888.5 701.5 890.5 698.5 903.5 698.5 905.5 695.3" fill="none" stroke="#1818e0" stroke-width="1.4"/>
<polygon points="897,716 889.3,724.5 904.7,724.5" fill="#1818e0" stroke="none" stroke-width="0"/>
<line x1="889.3" y1="715.8" x2="904.7" y2="715.8" stroke="#1818e0" stroke-width="1.8"/>
<text x="877.7" y="672.34" font-size="7.4" fill="#2a2a52" font-family='"Liberation Serif","Noto Serif CJK SC",serif' stroke="#2a2a52" stroke-width="0.22">D26</text>
<text x="877.7" y="679.24" font-size="7.4" fill="#2a2a52" font-family='"Liberation Serif","Noto Serif CJK SC",serif' stroke="#2a2a52" stroke-width="0.22">10V</text>
<text x="877.7" y="699.24" font-size="7.4" fill="#2a2a52" font-family='"Liberation Serif","Noto Serif CJK SC",serif' stroke="#2a2a52" stroke-width="0.22">Q16</text>
<text x="877.7" y="705.94" font-size="7.4" fill="#2a2a52" font-family='"Liberation Serif","Noto Serif CJK SC",serif' stroke="#2a2a52" stroke-width="0.22">10V</text>
<text x="872.6" y="720.44" font-size="7.4" fill="#2a2a52" font-family='"Liberation Serif","Noto Serif CJK SC",serif' stroke="#2a2a52" stroke-width="0.22">Q17</text>
<text x="863.4" y="730.84" font-size="7.4" fill="#2a2a52" font-family='"Liberation Serif","Noto Serif CJK SC",serif' textLength="24.4" lengthAdjust="spacingAndGlyphs" stroke="#2a2a52" stroke-width="0.22">BYG20G</text>
<rect x="920.2" y="677.6" width="31.1" height="81.8" fill="none" stroke="#606068" stroke-width="1"/>
<text x="932.6" y="675.58" font-size="6.6" fill="#2a2a52" font-family='"Liberation Serif","Noto Serif CJK SC",serif' stroke="#2a2a52" stroke-width="0.22">T2</text>
<path d="M928.4 701.8 A4 4.16 0 0 1 928.4 710.12 A4 4.16 0 0 1 928.4 718.45 A4 4.16 0 0 1 928.4 726.77 A4 4.16 0 0 1 928.4 735.1" fill="none" stroke="#3c3cb8" stroke-width="1"/>
<line x1="934" y1="681.3" x2="934" y2="755.2" stroke="#6a6ac6" stroke-width="1"/>
<line x1="937.3" y1="681.3" x2="937.3" y2="755.2" stroke="#6a6ac6" stroke-width="1"/>
<path d="M946.6 682.2 A4 4.05 0 0 0 946.6 690.3 A4 4.05 0 0 0 946.6 698.4 A4 4.05 0 0 0 946.6 706.5 A4 4.05 0 0 0 946.6 714.6" fill="none" stroke="#3c3cb8" stroke-width="1"/>
<path d="M946.6 722.8 A4 4.05 0 0 0 946.6 730.9 A4 4.05 0 0 0 946.6 739 A4 4.05 0 0 0 946.6 747.1 A4 4.05 0 0 0 946.6 755.2" fill="none" stroke="#3c3cb8" stroke-width="1"/>
<circle cx="925.1" cy="705.7" r="1.7" fill="#e01828"/>
<circle cx="943.7" cy="684.6" r="1.7" fill="#e01828"/>
<circle cx="943.7" cy="726.4" r="1.7" fill="#e01828"/>
<polyline points="946.6 682.2 958.3 682.2 958.3 620 1023.8 620 1023.8 656.5" fill="none" stroke="#474772" stroke-width="1"/>
<line x1="946.6" y1="714.6" x2="1129.6" y2="714.6" stroke="#474772" stroke-width="1"/>
<polyline points="946.6 722.8 1023.8 722.8 1023.8 759" fill="none" stroke="#474772" stroke-width="1"/>
<polyline points="946.6 755.2 958.3 755.2 958.3 817 1128.4 817" fill="none" stroke="#474772" stroke-width="1"/>
<circle cx="973.3" cy="620" r="1.8" fill="#6e0a0a"/>
<circle cx="996.3" cy="620" r="1.8" fill="#6e0a0a"/>
<line x1="973.3" y1="620" x2="973.3" y2="714.6" stroke="#474772" stroke-width="1"/>
<rect x="970.8" y="633.8" width="5" height="16.2" fill="#fffff6" stroke="#6a6ac6" stroke-width="1"/>
<circle cx="973.3" cy="664.3" r="1.8" fill="#6e0a0a"/>
<line x1="973.3" y1="664.3" x2="1017" y2="664.3" stroke="#474772" stroke-width="1"/>
<circle cx="996.3" cy="664.3" r="1.8" fill="#6e0a0a"/>
<line x1="996.3" y1="620" x2="996.3" y2="689.6" stroke="#474772" stroke-width="1"/>
<polygon points="996.3,640.8 988.8,633 1003.8,633" fill="#1818e0" stroke="none" stroke-width="0"/>
<line x1="988.8" y1="640.8" x2="1003.8" y2="640.8" stroke="#1818e0" stroke-width="1.6"/>
<polygon points="1023.8,631.3 1016.3,639.3 1031.3,639.3" fill="#1818e0" stroke="none" stroke-width="0"/>
<line x1="1016.3" y1="631.3" x2="1031.3" y2="631.3" stroke="#1818e0" stroke-width="1.6"/>
<polygon points="996.3,681.8 988.8,673.8 1003.8,673.8" fill="#1818e0" stroke="none" stroke-width="0"/>
<line x1="988.8" y1="681.8" x2="1003.8" y2="681.8" stroke="#1818e0" stroke-width="1.6"/>
<line x1="996.3" y1="689.6" x2="1045" y2="689.6" stroke="#474772" stroke-width="1"/>
<circle cx="1024.3" cy="689.6" r="1.8" fill="#6e0a0a"/>
<rect x="1045" y="687.1" width="15" height="5" fill="#fffff6" stroke="#6a6ac6" stroke-width="1"/>
<line x1="1060" y1="689.6" x2="1071.6" y2="689.6" stroke="#474772" stroke-width="1"/>
<circle cx="1071.6" cy="689.6" r="1.8" fill="#6e0a0a"/>
<line x1="1017" y1="657.5" x2="1017" y2="672" stroke="#4848b0" stroke-width="1.3"/>
<polyline points="1017 662 1023.8 656.5 1032 656.5 1032 670.5" fill="none" stroke="#474772" stroke-width="1"/>
<polyline points="1017 667 1024.3 672.5 1024.3 689.6" fill="none" stroke="#474772" stroke-width="1"/>
<polygon points="1023,671.6 1017.35,670.79 1020.66,666.39" fill="#1818e0" stroke="none" stroke-width="0"/>
<line x1="1027.7" y1="670.5" x2="1036.3" y2="670.5" stroke="#6a6ac6" stroke-width="1.1"/>
<line x1="1027.7" y1="674.3" x2="1036.3" y2="674.3" stroke="#6a6ac6" stroke-width="1.1"/>
<line x1="1032" y1="674.3" x2="1032" y2="714.6" stroke="#474772" stroke-width="1"/>
<rect x="970.8" y="681.8" width="5" height="16.2" fill="#fffff6" stroke="#6a6ac6" stroke-width="1"/>
<line x1="1071.6" y1="689.6" x2="1071.6" y2="714.6" stroke="#474772" stroke-width="1"/>
<rect x="1069.1" y="693.8" width="5" height="16.2" fill="#fffff6" stroke="#6a6ac6" stroke-width="1"/>
<polyline points="1071.6 689.6 1071.6 657.4 1114.4 657.4" fill="none" stroke="#474772" stroke-width="1"/>
<circle cx="1089.4" cy="657.4" r="1.8" fill="#6e0a0a"/>
<circle cx="1104.4" cy="657.4" r="1.8" fill="#6e0a0a"/>
<rect x="1114.4" y="655.1" width="16.6" height="4.6" fill="#fffff6" stroke="#6a6ac6" stroke-width="1"/>
<line x1="1131" y1="657.4" x2="1142.4" y2="657.4" stroke="#474772" stroke-width="1"/>
<polyline points="1104.4 657.4 1104.4 675 1114.4 675" fill="none" stroke="#474772" stroke-width="1"/>
<rect x="1114.4" y="672.7" width="16.6" height="4.6" fill="#fffff6" stroke="#6a6ac6" stroke-width="1"/>
<line x1="1131" y1="675" x2="1142.4" y2="675" stroke="#474772" stroke-width="1"/>
<line x1="1089.4" y1="657.4" x2="1089.4" y2="714.6" stroke="#474772" stroke-width="1"/>
<polygon points="1089.4,672.5 1082.1,665 1096.7,665" fill="#1818e0" stroke="none" stroke-width="0"/>
<polyline points="1081.3 675.5 1083.3 672.5 1095.5 672.5 1097.5 669.3" fill="none" stroke="#1818e0" stroke-width="1.4"/>
<polygon points="1089.4,698.3 1082.1,705.8 1096.7,705.8" fill="#1818e0" stroke="none" stroke-width="0"/>
<polyline points="1081.3 701.3 1083.3 698.3 1095.5 698.3 1097.5 695.1" fill="none" stroke="#1818e0" stroke-width="1.4"/>
<circle cx="973.3" cy="722.8" r="1.8" fill="#6e0a0a"/>
<circle cx="996.3" cy="722.8" r="1.8" fill="#6e0a0a"/>
<line x1="973.3" y1="722.8" x2="973.3" y2="817" stroke="#474772" stroke-width="1"/>
<rect x="970.8" y="736.8" width="5" height="15.7" fill="#fffff6" stroke="#6a6ac6" stroke-width="1"/>
<circle cx="973.3" cy="767" r="1.8" fill="#6e0a0a"/>
<line x1="973.3" y1="767" x2="1017" y2="767" stroke="#474772" stroke-width="1"/>
<circle cx="996.3" cy="767" r="1.8" fill="#6e0a0a"/>
<line x1="996.3" y1="722.8" x2="996.3" y2="792" stroke="#474772" stroke-width="1"/>
<polygon points="996.3,743 988.8,735 1003.8,735" fill="#1818e0" stroke="none" stroke-width="0"/>
<line x1="988.8" y1="743" x2="1003.8" y2="743" stroke="#1818e0" stroke-width="1.6"/>
<polygon points="1023.8,734.3 1016.3,742 1031.3,742" fill="#1818e0" stroke="none" stroke-width="0"/>
<line x1="1016.3" y1="734.3" x2="1031.3" y2="734.3" stroke="#1818e0" stroke-width="1.6"/>
<polygon points="996.3,784.3 988.8,776.3 1003.8,776.3" fill="#1818e0" stroke="none" stroke-width="0"/>
<line x1="988.8" y1="784.3" x2="1003.8" y2="784.3" stroke="#1818e0" stroke-width="1.6"/>
<line x1="996.3" y1="792" x2="1045" y2="792" stroke="#474772" stroke-width="1"/>
<circle cx="1024.3" cy="792" r="1.8" fill="#6e0a0a"/>
<rect x="1045" y="789.5" width="15" height="5" fill="#fffff6" stroke="#6a6ac6" stroke-width="1"/>
<line x1="1060" y1="792" x2="1071.6" y2="792" stroke="#474772" stroke-width="1"/>
<circle cx="1071.6" cy="792" r="1.8" fill="#6e0a0a"/>
<line x1="1017" y1="761.3" x2="1017" y2="776.3" stroke="#4848b0" stroke-width="1.3"/>
<polyline points="1017 765.5 1023.8 759 1032 759 1032 773.3" fill="none" stroke="#474772" stroke-width="1"/>
<polyline points="1017 770.5 1024.3 776 1024.3 792" fill="none" stroke="#474772" stroke-width="1"/>
<polygon points="1023,775.2 1017.35,774.39 1020.66,769.99" fill="#1818e0" stroke="none" stroke-width="0"/>
<line x1="1027.7" y1="773.3" x2="1036.3" y2="773.3" stroke="#6a6ac6" stroke-width="1.1"/>
<line x1="1027.7" y1="777" x2="1036.3" y2="777" stroke="#6a6ac6" stroke-width="1.1"/>
<line x1="1032" y1="777" x2="1032" y2="817" stroke="#474772" stroke-width="1"/>
<rect x="970.8" y="784.3" width="5" height="16.2" fill="#fffff6" stroke="#6a6ac6" stroke-width="1"/>
<line x1="1071.6" y1="792" x2="1071.6" y2="817" stroke="#474772" stroke-width="1"/>
<rect x="1069.1" y="796.8" width="5" height="16.2" fill="#fffff6" stroke="#6a6ac6" stroke-width="1"/>
<polyline points="1071.6 792 1071.6 760 1114.4 760" fill="none" stroke="#474772" stroke-width="1"/>
<circle cx="1089.4" cy="760" r="1.8" fill="#6e0a0a"/>
<circle cx="1104.4" cy="760" r="1.8" fill="#6e0a0a"/>
<rect x="1114.4" y="757.7" width="16.6" height="4.6" fill="#fffff6" stroke="#6a6ac6" stroke-width="1"/>
<line x1="1131" y1="760" x2="1142.4" y2="760" stroke="#474772" stroke-width="1"/>
<polyline points="1104.4 760 1104.4 778 1114.4 778" fill="none" stroke="#474772" stroke-width="1"/>
<rect x="1114.4" y="775.7" width="16.6" height="4.6" fill="#fffff6" stroke="#6a6ac6" stroke-width="1"/>
<line x1="1131" y1="778" x2="1142.4" y2="778" stroke="#474772" stroke-width="1"/>
<line x1="1089.4" y1="760" x2="1089.4" y2="817" stroke="#474772" stroke-width="1"/>
<polygon points="1089.4,775.5 1082.1,768 1096.7,768" fill="#1818e0" stroke="none" stroke-width="0"/>
<polyline points="1081.3 778.5 1083.3 775.5 1095.5 775.5 1097.5 772.3" fill="none" stroke="#1818e0" stroke-width="1.4"/>
<polygon points="1089.4,801.3 1082.1,808.8 1096.7,808.8" fill="#1818e0" stroke="none" stroke-width="0"/>
<polyline points="1081.3 804.3 1083.3 801.3 1095.5 801.3 1097.5 798.1" fill="none" stroke="#1818e0" stroke-width="1.4"/>
<circle cx="973.3" cy="714.6" r="1.8" fill="#6e0a0a"/>
<circle cx="973.3" cy="817" r="1.8" fill="#6e0a0a"/>
<circle cx="1032" cy="714.6" r="1.8" fill="#6e0a0a"/>
<circle cx="1032" cy="817" r="1.8" fill="#6e0a0a"/>
<circle cx="1071.6" cy="714.6" r="1.8" fill="#6e0a0a"/>
<circle cx="1071.6" cy="817" r="1.8" fill="#6e0a0a"/>
<circle cx="1089.4" cy="714.6" r="1.8" fill="#6e0a0a"/>
<circle cx="1089.4" cy="817" r="1.8" fill="#6e0a0a"/>
<circle cx="1129.6" cy="714.6" r="1.8" fill="#6e0a0a"/>
<polygon points="1142.4,653.5 1161.2,653.5 1165,657.4 1161.2,661.3 1142.4,661.3" fill="#fff27a" stroke="#a8902c" stroke-width="1"/>
<text x="1151.8" y="660.08" font-size="7.5" fill="#463808" font-family='"Liberation Serif","Noto Serif CJK SC",serif' text-anchor="middle" textLength="13" lengthAdjust="spacingAndGlyphs" stroke="#463808" stroke-width="0.2">G11</text>
<polygon points="1142.4,671.1 1161.2,671.1 1165,675 1161.2,678.9 1142.4,678.9" fill="#fff27a" stroke="#a8902c" stroke-width="1"/>
<text x="1151.8" y="677.68" font-size="7.5" fill="#463808" font-family='"Liberation Serif","Noto Serif CJK SC",serif' text-anchor="middle" textLength="8.2" lengthAdjust="spacingAndGlyphs" stroke="#463808" stroke-width="0.2">G1</text>
<polygon points="1129.6,710.7 1148.2,710.7 1152,714.6 1148.2,718.5 1129.6,718.5" fill="#fff27a" stroke="#a8902c" stroke-width="1"/>
<text x="1138.9" y="717.28" font-size="7.5" fill="#463808" font-family='"Liberation Serif","Noto Serif CJK SC",serif' text-anchor="middle" textLength="16" lengthAdjust="spacingAndGlyphs" stroke="#463808" stroke-width="0.2">E1,11</text>
<polygon points="1142.4,756.1 1161.2,756.1 1165,760 1161.2,763.9 1142.4,763.9" fill="#fff27a" stroke="#a8902c" stroke-width="1"/>
<text x="1151.8" y="762.68" font-size="7.5" fill="#463808" font-family='"Liberation Serif","Noto Serif CJK SC",serif' text-anchor="middle" textLength="13" lengthAdjust="spacingAndGlyphs" stroke="#463808" stroke-width="0.2">G22</text>
<polygon points="1142.4,774.1 1161.2,774.1 1165,778 1161.2,781.9 1142.4,781.9" fill="#fff27a" stroke="#a8902c" stroke-width="1"/>
<text x="1151.8" y="780.68" font-size="7.5" fill="#463808" font-family='"Liberation Serif","Noto Serif CJK SC",serif' text-anchor="middle" textLength="9" lengthAdjust="spacingAndGlyphs" stroke="#463808" stroke-width="0.2">G2</text>
<polygon points="1128.4,813.7 1147.2,813.7 1151,817.6 1147.2,821.5 1128.4,821.5" fill="#fff27a" stroke="#a8902c" stroke-width="1"/>
<text x="1137.8" y="820.28" font-size="7.5" fill="#463808" font-family='"Liberation Serif","Noto Serif CJK SC",serif' text-anchor="middle" textLength="16.4" lengthAdjust="spacingAndGlyphs" stroke="#463808" stroke-width="0.2">E2,22</text>
<text x="977.5" y="641.74" font-size="7.4" fill="#2a2a52" font-family='"Liberation Serif","Noto Serif CJK SC",serif' stroke="#2a2a52" stroke-width="0.22">R36</text>
<text x="977.5" y="649.44" font-size="7.4" fill="#2a2a52" font-family='"Liberation Serif","Noto Serif CJK SC",serif' textLength="14" lengthAdjust="spacingAndGlyphs" stroke="#2a2a52" stroke-width="0.22">120R</text>
<text x="1004.3" y="641.74" font-size="7.4" fill="#2a2a52" font-family='"Liberation Serif","Noto Serif CJK SC",serif' stroke="#2a2a52" stroke-width="0.22">D21</text>
<text x="997" y="649.44" font-size="7.4" fill="#2a2a52" font-family='"Liberation Serif","Noto Serif CJK SC",serif' textLength="28" lengthAdjust="spacingAndGlyphs" stroke="#2a2a52" stroke-width="0.22">BYS10-45</text>
<text x="1032" y="631.94" font-size="7.4" fill="#2a2a52" font-family='"Liberation Serif","Noto Serif CJK SC",serif' stroke="#2a2a52" stroke-width="0.22">D22</text>
<text x="1032" y="638.74" font-size="7.4" fill="#2a2a52" font-family='"Liberation Serif","Noto Serif CJK SC",serif' textLength="24.5" lengthAdjust="spacingAndGlyphs" stroke="#2a2a52" stroke-width="0.22">BYG20G</text>
<text x="1005" y="681.74" font-size="7.4" fill="#2a2a52" font-family='"Liberation Serif","Noto Serif CJK SC",serif' stroke="#2a2a52" stroke-width="0.22">D20</text>
<text x="997" y="687.94" font-size="7.4" fill="#2a2a52" font-family='"Liberation Serif","Noto Serif CJK SC",serif' textLength="28" lengthAdjust="spacingAndGlyphs" stroke="#2a2a52" stroke-width="0.22">BYS10-45</text>
<text x="1004.3" y="659.94" font-size="7.4" fill="#2a2a52" font-family='"Liberation Serif","Noto Serif CJK SC",serif' stroke="#2a2a52" stroke-width="0.22">Q12</text>
<text x="1037" y="664.94" font-size="7.4" fill="#2a2a52" font-family='"Liberation Serif","Noto Serif CJK SC",serif' stroke="#2a2a52" stroke-width="0.22">C20</text>
<text x="1037" y="672.94" font-size="7.4" fill="#2a2a52" font-family='"Liberation Serif","Noto Serif CJK SC",serif' stroke="#2a2a52" stroke-width="0.22">105</text>
<text x="957.5" y="688.74" font-size="7.4" fill="#2a2a52" font-family='"Liberation Serif","Noto Serif CJK SC",serif' stroke="#2a2a52" stroke-width="0.22">R35</text>
<text x="955" y="696.74" font-size="7.4" fill="#2a2a52" font-family='"Liberation Serif","Noto Serif CJK SC",serif' textLength="13.6" lengthAdjust="spacingAndGlyphs" stroke="#2a2a52" stroke-width="0.22">470R</text>
<text x="1049.3" y="678.24" font-size="7.4" fill="#2a2a52" font-family='"Liberation Serif","Noto Serif CJK SC",serif' textLength="19" lengthAdjust="spacingAndGlyphs" stroke="#2a2a52" stroke-width="0.22">R39/41</text>
<text x="1049.3" y="685.74" font-size="7.4" fill="#2a2a52" font-family='"Liberation Serif","Noto Serif CJK SC",serif' stroke="#2a2a52" stroke-width="0.22">15R</text>
<text x="1056.3" y="701.74" font-size="7.4" fill="#2a2a52" font-family='"Liberation Serif","Noto Serif CJK SC",serif' stroke="#2a2a52" stroke-width="0.22">R34</text>
<text x="1059" y="709.24" font-size="7.4" fill="#2a2a52" font-family='"Liberation Serif","Noto Serif CJK SC",serif' stroke="#2a2a52" stroke-width="0.22">1K</text>
<text x="1080.8" y="646.94" font-size="7.4" fill="#2a2a52" font-family='"Liberation Serif","Noto Serif CJK SC",serif' stroke="#2a2a52" stroke-width="0.22">Q10</text>
<text x="1081.5" y="654.24" font-size="7.4" fill="#2a2a52" font-family='"Liberation Serif","Noto Serif CJK SC",serif' stroke="#2a2a52" stroke-width="0.22">18V</text>
<text x="1085" y="724.24" font-size="7.4" fill="#2a2a52" font-family='"Liberation Serif","Noto Serif CJK SC",serif' stroke="#2a2a52" stroke-width="0.22">Q11</text>
<text x="1085.5" y="731.74" font-size="7.4" fill="#2a2a52" font-family='"Liberation Serif","Noto Serif CJK SC",serif' stroke="#2a2a52" stroke-width="0.22">18V</text>
<text x="1116.3" y="644.44" font-size="7.4" fill="#2a2a52" font-family='"Liberation Serif","Noto Serif CJK SC",serif' textLength="19" lengthAdjust="spacingAndGlyphs" stroke="#2a2a52" stroke-width="0.22">R32/33</text>
<text x="1116.3" y="651.74" font-size="7.4" fill="#2a2a52" font-family='"Liberation Serif","Noto Serif CJK SC",serif' stroke="#2a2a52" stroke-width="0.22">15R</text>
<text x="1116.3" y="685.44" font-size="7.4" fill="#2a2a52" font-family='"Liberation Serif","Noto Serif CJK SC",serif' textLength="19" lengthAdjust="spacingAndGlyphs" stroke="#2a2a52" stroke-width="0.22">R47/48</text>
<text x="1116.3" y="692.94" font-size="7.4" fill="#2a2a52" font-family='"Liberation Serif","Noto Serif CJK SC",serif' stroke="#2a2a52" stroke-width="0.22">15R</text>
<text x="957.5" y="744.24" font-size="7.4" fill="#2a2a52" font-family='"Liberation Serif","Noto Serif CJK SC",serif' stroke="#2a2a52" stroke-width="0.22">R37</text>
<text x="955" y="750.74" font-size="7.4" fill="#2a2a52" font-family='"Liberation Serif","Noto Serif CJK SC",serif' textLength="13.6" lengthAdjust="spacingAndGlyphs" stroke="#2a2a52" stroke-width="0.22">470R</text>
<text x="1004.3" y="743.74" font-size="7.4" fill="#2a2a52" font-family='"Liberation Serif","Noto Serif CJK SC",serif' stroke="#2a2a52" stroke-width="0.22">D24</text>
<text x="997" y="750.44" font-size="7.4" fill="#2a2a52" font-family='"Liberation Serif","Noto Serif CJK SC",serif' textLength="28" lengthAdjust="spacingAndGlyphs" stroke="#2a2a52" stroke-width="0.22">BYS10-45</text>
<text x="1032" y="739.94" font-size="7.4" fill="#2a2a52" font-family='"Liberation Serif","Noto Serif CJK SC",serif' stroke="#2a2a52" stroke-width="0.22">D23</text>
<text x="1032" y="747.44" font-size="7.4" fill="#2a2a52" font-family='"Liberation Serif","Noto Serif CJK SC",serif' textLength="24.5" lengthAdjust="spacingAndGlyphs" stroke="#2a2a52" stroke-width="0.22">BYG20G</text>
<text x="1003" y="764.24" font-size="7.4" fill="#2a2a52" font-family='"Liberation Serif","Noto Serif CJK SC",serif' stroke="#2a2a52" stroke-width="0.22">Q13</text>
<text x="1037" y="773.74" font-size="7.4" fill="#2a2a52" font-family='"Liberation Serif","Noto Serif CJK SC",serif' stroke="#2a2a52" stroke-width="0.22">C21</text>
<text x="1037" y="781.24" font-size="7.4" fill="#2a2a52" font-family='"Liberation Serif","Noto Serif CJK SC",serif' stroke="#2a2a52" stroke-width="0.22">105</text>
<text x="1005" y="784.94" font-size="7.4" fill="#2a2a52" font-family='"Liberation Serif","Noto Serif CJK SC",serif' stroke="#2a2a52" stroke-width="0.22">D25</text>
<text x="997" y="791.24" font-size="7.4" fill="#2a2a52" font-family='"Liberation Serif","Noto Serif CJK SC",serif' textLength="28" lengthAdjust="spacingAndGlyphs" stroke="#2a2a52" stroke-width="0.22">BYS10-45</text>
<text x="975.8" y="791.74" font-size="7.4" fill="#2a2a52" font-family='"Liberation Serif","Noto Serif CJK SC",serif' stroke="#2a2a52" stroke-width="0.22">R42</text>
<text x="975.8" y="798.24" font-size="7.4" fill="#2a2a52" font-family='"Liberation Serif","Noto Serif CJK SC",serif' textLength="14" lengthAdjust="spacingAndGlyphs" stroke="#2a2a52" stroke-width="0.22">120R</text>
<text x="1049.3" y="779.94" font-size="7.4" fill="#2a2a52" font-family='"Liberation Serif","Noto Serif CJK SC",serif' textLength="19" lengthAdjust="spacingAndGlyphs" stroke="#2a2a52" stroke-width="0.22">R38/52</text>
<text x="1049.3" y="787.44" font-size="7.4" fill="#2a2a52" font-family='"Liberation Serif","Noto Serif CJK SC",serif' stroke="#2a2a52" stroke-width="0.22">15R</text>
<text x="1056.3" y="804.94" font-size="7.4" fill="#2a2a52" font-family='"Liberation Serif","Noto Serif CJK SC",serif' stroke="#2a2a52" stroke-width="0.22">R41</text>
<text x="1059" y="811.74" font-size="7.4" fill="#2a2a52" font-family='"Liberation Serif","Noto Serif CJK SC",serif' stroke="#2a2a52" stroke-width="0.22">1K</text>
<text x="1083.8" y="748.74" font-size="7.4" fill="#2a2a52" font-family='"Liberation Serif","Noto Serif CJK SC",serif' stroke="#2a2a52" stroke-width="0.22">Q14</text>
<text x="1084.5" y="755.74" font-size="7.4" fill="#2a2a52" font-family='"Liberation Serif","Noto Serif CJK SC",serif' stroke="#2a2a52" stroke-width="0.22">18V</text>
<text x="1085" y="827.44" font-size="7.4" fill="#2a2a52" font-family='"Liberation Serif","Noto Serif CJK SC",serif' stroke="#2a2a52" stroke-width="0.22">Q15</text>
<text x="1085.5" y="834.94" font-size="7.4" fill="#2a2a52" font-family='"Liberation Serif","Noto Serif CJK SC",serif' stroke="#2a2a52" stroke-width="0.22">18V</text>
<text x="1116.3" y="747.94" font-size="7.4" fill="#2a2a52" font-family='"Liberation Serif","Noto Serif CJK SC",serif' textLength="19" lengthAdjust="spacingAndGlyphs" stroke="#2a2a52" stroke-width="0.22">R40/50</text>
<text x="1116.3" y="754.94" font-size="7.4" fill="#2a2a52" font-family='"Liberation Serif","Noto Serif CJK SC",serif' stroke="#2a2a52" stroke-width="0.22">15R</text>
<text x="1116.3" y="788.24" font-size="7.4" fill="#2a2a52" font-family='"Liberation Serif","Noto Serif CJK SC",serif' textLength="19" lengthAdjust="spacingAndGlyphs" stroke="#2a2a52" stroke-width="0.22">R39/51</text>
<text x="1116.3" y="795.74" font-size="7.4" fill="#2a2a52" font-family='"Liberation Serif","Noto Serif CJK SC",serif' stroke="#2a2a52" stroke-width="0.22">15R</text>
<line x1="488.4" y1="531.6" x2="488.4" y2="536.8" stroke="#6a6ab4" stroke-width="0.9"/>
<line x1="488.4" y1="544.8" x2="488.4" y2="574.8" stroke="#6a6ab4" stroke-width="0.9"/>
<line x1="488.4" y1="584" x2="488.4" y2="612.2" stroke="#6a6ab4" stroke-width="0.9"/>
<line x1="488.4" y1="619.8" x2="488.4" y2="926.6" stroke="#6a6ab4" stroke-width="0.9"/>
</svg></body></html>
